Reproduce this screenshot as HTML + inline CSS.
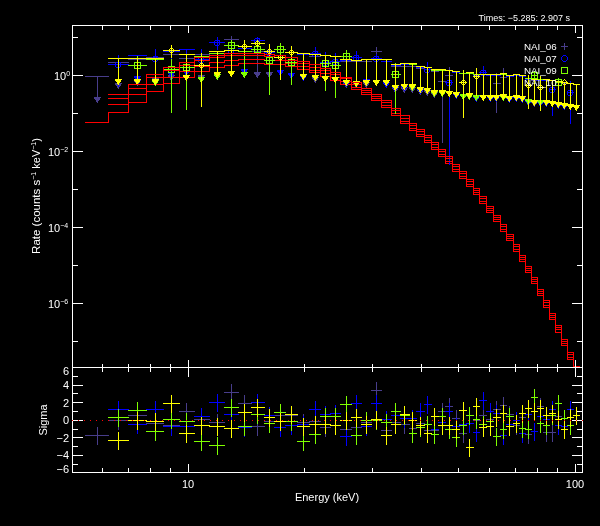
<!DOCTYPE html>
<html><head><meta charset="utf-8"><title>Spectrum</title>
<style>
html,body{margin:0;padding:0;background:#000;}
svg{display:block;will-change:transform;}
text{font-family:"Liberation Sans",sans-serif;fill:#fff;}
</style></head>
<body>
<svg width="600" height="526" viewBox="0 0 600 526" shape-rendering="crispEdges">
<rect width="600" height="526" fill="#000"/>
<rect x="85" y="76" width="24" height="1" fill="#483d8b"/>
<rect x="97" y="76" width="1" height="22" fill="#483d8b"/>
<rect x="94" y="97" width="7" height="1" fill="#483d8b"/>
<rect x="94" y="98" width="6" height="1" fill="#483d8b"/>
<rect x="95" y="99" width="5" height="1" fill="#483d8b"/>
<rect x="96" y="100" width="3" height="1" fill="#483d8b"/>
<rect x="96" y="101" width="2" height="1" fill="#483d8b"/>
<rect x="97" y="102" width="1" height="1" fill="#483d8b"/>
<rect x="108" y="62" width="21" height="1" fill="#483d8b"/>
<rect x="118" y="62" width="1" height="22" fill="#483d8b"/>
<rect x="115" y="83" width="7" height="1" fill="#483d8b"/>
<rect x="115" y="84" width="6" height="1" fill="#483d8b"/>
<rect x="116" y="85" width="5" height="1" fill="#483d8b"/>
<rect x="117" y="86" width="3" height="1" fill="#483d8b"/>
<rect x="117" y="87" width="2" height="1" fill="#483d8b"/>
<rect x="118" y="88" width="1" height="1" fill="#483d8b"/>
<rect x="128" y="59" width="19" height="1" fill="#483d8b"/>
<rect x="137" y="59" width="1" height="22" fill="#483d8b"/>
<rect x="134" y="80" width="7" height="1" fill="#483d8b"/>
<rect x="134" y="81" width="6" height="1" fill="#483d8b"/>
<rect x="135" y="82" width="5" height="1" fill="#483d8b"/>
<rect x="136" y="83" width="3" height="1" fill="#483d8b"/>
<rect x="136" y="84" width="2" height="1" fill="#483d8b"/>
<rect x="137" y="85" width="1" height="1" fill="#483d8b"/>
<rect x="146" y="57" width="18" height="1" fill="#483d8b"/>
<rect x="155" y="57" width="1" height="22" fill="#483d8b"/>
<rect x="152" y="78" width="7" height="1" fill="#483d8b"/>
<rect x="152" y="79" width="6" height="1" fill="#483d8b"/>
<rect x="153" y="80" width="5" height="1" fill="#483d8b"/>
<rect x="154" y="81" width="3" height="1" fill="#483d8b"/>
<rect x="154" y="82" width="2" height="1" fill="#483d8b"/>
<rect x="155" y="83" width="1" height="1" fill="#483d8b"/>
<rect x="163" y="54" width="17" height="1" fill="#483d8b"/>
<rect x="171" y="54" width="1" height="22" fill="#483d8b"/>
<rect x="168" y="75" width="7" height="1" fill="#483d8b"/>
<rect x="168" y="76" width="6" height="1" fill="#483d8b"/>
<rect x="169" y="77" width="5" height="1" fill="#483d8b"/>
<rect x="170" y="78" width="3" height="1" fill="#483d8b"/>
<rect x="170" y="79" width="2" height="1" fill="#483d8b"/>
<rect x="171" y="80" width="1" height="1" fill="#483d8b"/>
<rect x="194" y="54" width="16" height="1" fill="#483d8b"/>
<rect x="201" y="54" width="1" height="22" fill="#483d8b"/>
<rect x="198" y="75" width="7" height="1" fill="#483d8b"/>
<rect x="198" y="76" width="6" height="1" fill="#483d8b"/>
<rect x="199" y="77" width="5" height="1" fill="#483d8b"/>
<rect x="200" y="78" width="3" height="1" fill="#483d8b"/>
<rect x="200" y="79" width="2" height="1" fill="#483d8b"/>
<rect x="201" y="80" width="1" height="1" fill="#483d8b"/>
<rect x="251" y="51" width="14" height="1" fill="#483d8b"/>
<rect x="257" y="51" width="1" height="22" fill="#483d8b"/>
<rect x="254" y="72" width="7" height="1" fill="#483d8b"/>
<rect x="254" y="73" width="6" height="1" fill="#483d8b"/>
<rect x="255" y="74" width="5" height="1" fill="#483d8b"/>
<rect x="256" y="75" width="3" height="1" fill="#483d8b"/>
<rect x="256" y="76" width="2" height="1" fill="#483d8b"/>
<rect x="257" y="77" width="1" height="1" fill="#483d8b"/>
<rect x="264" y="51" width="11" height="1" fill="#483d8b"/>
<rect x="269" y="51" width="1" height="22" fill="#483d8b"/>
<rect x="266" y="72" width="7" height="1" fill="#483d8b"/>
<rect x="266" y="73" width="6" height="1" fill="#483d8b"/>
<rect x="267" y="74" width="5" height="1" fill="#483d8b"/>
<rect x="268" y="75" width="3" height="1" fill="#483d8b"/>
<rect x="268" y="76" width="2" height="1" fill="#483d8b"/>
<rect x="269" y="77" width="1" height="1" fill="#483d8b"/>
<rect x="297" y="54" width="13" height="1" fill="#483d8b"/>
<rect x="303" y="54" width="1" height="22" fill="#483d8b"/>
<rect x="300" y="75" width="7" height="1" fill="#483d8b"/>
<rect x="300" y="76" width="6" height="1" fill="#483d8b"/>
<rect x="301" y="77" width="5" height="1" fill="#483d8b"/>
<rect x="302" y="78" width="3" height="1" fill="#483d8b"/>
<rect x="302" y="79" width="2" height="1" fill="#483d8b"/>
<rect x="303" y="80" width="1" height="1" fill="#483d8b"/>
<rect x="309" y="56" width="12" height="1" fill="#483d8b"/>
<rect x="315" y="56" width="1" height="22" fill="#483d8b"/>
<rect x="312" y="77" width="7" height="1" fill="#483d8b"/>
<rect x="312" y="78" width="6" height="1" fill="#483d8b"/>
<rect x="313" y="79" width="5" height="1" fill="#483d8b"/>
<rect x="314" y="80" width="3" height="1" fill="#483d8b"/>
<rect x="314" y="81" width="2" height="1" fill="#483d8b"/>
<rect x="315" y="82" width="1" height="1" fill="#483d8b"/>
<rect x="340" y="61" width="12" height="1" fill="#483d8b"/>
<rect x="346" y="61" width="1" height="22" fill="#483d8b"/>
<rect x="343" y="82" width="7" height="1" fill="#483d8b"/>
<rect x="343" y="83" width="6" height="1" fill="#483d8b"/>
<rect x="344" y="84" width="5" height="1" fill="#483d8b"/>
<rect x="345" y="85" width="3" height="1" fill="#483d8b"/>
<rect x="345" y="86" width="2" height="1" fill="#483d8b"/>
<rect x="346" y="87" width="1" height="1" fill="#483d8b"/>
<rect x="351" y="61" width="11" height="1" fill="#483d8b"/>
<rect x="356" y="61" width="1" height="22" fill="#483d8b"/>
<rect x="353" y="82" width="7" height="1" fill="#483d8b"/>
<rect x="353" y="83" width="6" height="1" fill="#483d8b"/>
<rect x="354" y="84" width="5" height="1" fill="#483d8b"/>
<rect x="355" y="85" width="3" height="1" fill="#483d8b"/>
<rect x="355" y="86" width="2" height="1" fill="#483d8b"/>
<rect x="356" y="87" width="1" height="1" fill="#483d8b"/>
<rect x="361" y="61" width="11" height="1" fill="#483d8b"/>
<rect x="366" y="61" width="1" height="22" fill="#483d8b"/>
<rect x="363" y="82" width="7" height="1" fill="#483d8b"/>
<rect x="363" y="83" width="6" height="1" fill="#483d8b"/>
<rect x="364" y="84" width="5" height="1" fill="#483d8b"/>
<rect x="365" y="85" width="3" height="1" fill="#483d8b"/>
<rect x="365" y="86" width="2" height="1" fill="#483d8b"/>
<rect x="366" y="87" width="1" height="1" fill="#483d8b"/>
<rect x="381" y="61" width="11" height="1" fill="#483d8b"/>
<rect x="386" y="61" width="1" height="22" fill="#483d8b"/>
<rect x="383" y="82" width="7" height="1" fill="#483d8b"/>
<rect x="383" y="83" width="6" height="1" fill="#483d8b"/>
<rect x="384" y="84" width="5" height="1" fill="#483d8b"/>
<rect x="385" y="85" width="3" height="1" fill="#483d8b"/>
<rect x="385" y="86" width="2" height="1" fill="#483d8b"/>
<rect x="386" y="87" width="1" height="1" fill="#483d8b"/>
<rect x="391" y="66" width="10" height="1" fill="#483d8b"/>
<rect x="395" y="66" width="1" height="22" fill="#483d8b"/>
<rect x="392" y="87" width="7" height="1" fill="#483d8b"/>
<rect x="392" y="88" width="6" height="1" fill="#483d8b"/>
<rect x="393" y="89" width="5" height="1" fill="#483d8b"/>
<rect x="394" y="90" width="3" height="1" fill="#483d8b"/>
<rect x="394" y="91" width="2" height="1" fill="#483d8b"/>
<rect x="395" y="92" width="1" height="1" fill="#483d8b"/>
<rect x="400" y="66" width="10" height="1" fill="#483d8b"/>
<rect x="404" y="66" width="1" height="22" fill="#483d8b"/>
<rect x="401" y="87" width="7" height="1" fill="#483d8b"/>
<rect x="401" y="88" width="6" height="1" fill="#483d8b"/>
<rect x="402" y="89" width="5" height="1" fill="#483d8b"/>
<rect x="403" y="90" width="3" height="1" fill="#483d8b"/>
<rect x="403" y="91" width="2" height="1" fill="#483d8b"/>
<rect x="404" y="92" width="1" height="1" fill="#483d8b"/>
<rect x="409" y="66" width="8" height="1" fill="#483d8b"/>
<rect x="412" y="66" width="1" height="22" fill="#483d8b"/>
<rect x="409" y="87" width="7" height="1" fill="#483d8b"/>
<rect x="409" y="88" width="6" height="1" fill="#483d8b"/>
<rect x="410" y="89" width="5" height="1" fill="#483d8b"/>
<rect x="411" y="90" width="3" height="1" fill="#483d8b"/>
<rect x="411" y="91" width="2" height="1" fill="#483d8b"/>
<rect x="412" y="92" width="1" height="1" fill="#483d8b"/>
<rect x="416" y="68" width="9" height="1" fill="#483d8b"/>
<rect x="420" y="68" width="1" height="22" fill="#483d8b"/>
<rect x="417" y="89" width="7" height="1" fill="#483d8b"/>
<rect x="417" y="90" width="6" height="1" fill="#483d8b"/>
<rect x="418" y="91" width="5" height="1" fill="#483d8b"/>
<rect x="419" y="92" width="3" height="1" fill="#483d8b"/>
<rect x="419" y="93" width="2" height="1" fill="#483d8b"/>
<rect x="420" y="94" width="1" height="1" fill="#483d8b"/>
<rect x="424" y="69" width="8" height="1" fill="#483d8b"/>
<rect x="427" y="69" width="1" height="22" fill="#483d8b"/>
<rect x="424" y="90" width="7" height="1" fill="#483d8b"/>
<rect x="424" y="91" width="6" height="1" fill="#483d8b"/>
<rect x="425" y="92" width="5" height="1" fill="#483d8b"/>
<rect x="426" y="93" width="3" height="1" fill="#483d8b"/>
<rect x="426" y="94" width="2" height="1" fill="#483d8b"/>
<rect x="427" y="95" width="1" height="1" fill="#483d8b"/>
<rect x="431" y="71" width="8" height="1" fill="#483d8b"/>
<rect x="434" y="71" width="1" height="22" fill="#483d8b"/>
<rect x="431" y="92" width="7" height="1" fill="#483d8b"/>
<rect x="431" y="93" width="6" height="1" fill="#483d8b"/>
<rect x="432" y="94" width="5" height="1" fill="#483d8b"/>
<rect x="433" y="95" width="3" height="1" fill="#483d8b"/>
<rect x="433" y="96" width="2" height="1" fill="#483d8b"/>
<rect x="434" y="97" width="1" height="1" fill="#483d8b"/>
<rect x="525" y="79" width="7" height="1" fill="#483d8b"/>
<rect x="528" y="79" width="1" height="22" fill="#483d8b"/>
<rect x="525" y="100" width="7" height="1" fill="#483d8b"/>
<rect x="525" y="101" width="6" height="1" fill="#483d8b"/>
<rect x="526" y="102" width="5" height="1" fill="#483d8b"/>
<rect x="527" y="103" width="3" height="1" fill="#483d8b"/>
<rect x="527" y="104" width="2" height="1" fill="#483d8b"/>
<rect x="528" y="105" width="1" height="1" fill="#483d8b"/>
<rect x="531" y="80" width="7" height="1" fill="#483d8b"/>
<rect x="534" y="80" width="1" height="22" fill="#483d8b"/>
<rect x="531" y="101" width="7" height="1" fill="#483d8b"/>
<rect x="531" y="102" width="6" height="1" fill="#483d8b"/>
<rect x="532" y="103" width="5" height="1" fill="#483d8b"/>
<rect x="533" y="104" width="3" height="1" fill="#483d8b"/>
<rect x="533" y="105" width="2" height="1" fill="#483d8b"/>
<rect x="534" y="106" width="1" height="1" fill="#483d8b"/>
<rect x="537" y="80" width="7" height="1" fill="#483d8b"/>
<rect x="540" y="80" width="1" height="22" fill="#483d8b"/>
<rect x="537" y="101" width="7" height="1" fill="#483d8b"/>
<rect x="537" y="102" width="6" height="1" fill="#483d8b"/>
<rect x="538" y="103" width="5" height="1" fill="#483d8b"/>
<rect x="539" y="104" width="3" height="1" fill="#483d8b"/>
<rect x="539" y="105" width="2" height="1" fill="#483d8b"/>
<rect x="540" y="106" width="1" height="1" fill="#483d8b"/>
<rect x="179" y="58" width="16" height="1" fill="#483d8b"/>
<rect x="186" y="55" width="1" height="21" fill="#483d8b"/>
<rect x="183" y="58" width="7" height="1" fill="#483d8b"/>
<rect x="186" y="55" width="1" height="7" fill="#483d8b"/>
<rect x="224" y="39" width="15" height="1" fill="#483d8b"/>
<rect x="231" y="36" width="1" height="9" fill="#483d8b"/>
<rect x="228" y="39" width="7" height="1" fill="#483d8b"/>
<rect x="231" y="36" width="1" height="7" fill="#483d8b"/>
<rect x="371" y="51" width="11" height="1" fill="#483d8b"/>
<rect x="376" y="47" width="1" height="10" fill="#483d8b"/>
<rect x="373" y="51" width="7" height="1" fill="#483d8b"/>
<rect x="376" y="48" width="1" height="7" fill="#483d8b"/>
<rect x="438" y="81" width="8" height="1" fill="#483d8b"/>
<rect x="442" y="72" width="1" height="71" fill="#483d8b"/>
<rect x="439" y="81" width="7" height="1" fill="#483d8b"/>
<rect x="442" y="78" width="1" height="7" fill="#483d8b"/>
<rect x="445" y="75" width="8" height="1" fill="#483d8b"/>
<rect x="449" y="67" width="1" height="22" fill="#483d8b"/>
<rect x="446" y="75" width="7" height="1" fill="#483d8b"/>
<rect x="449" y="72" width="1" height="7" fill="#483d8b"/>
<rect x="493" y="83" width="8" height="1" fill="#483d8b"/>
<rect x="496" y="73" width="1" height="40" fill="#483d8b"/>
<rect x="493" y="83" width="7" height="1" fill="#483d8b"/>
<rect x="496" y="80" width="1" height="7" fill="#483d8b"/>
<rect x="500" y="77" width="7" height="1" fill="#483d8b"/>
<rect x="503" y="68" width="1" height="23" fill="#483d8b"/>
<rect x="500" y="77" width="7" height="1" fill="#483d8b"/>
<rect x="503" y="74" width="1" height="7" fill="#483d8b"/>
<rect x="85" y="122" width="24" height="1" fill="#ff0000"/>
<rect x="108" y="112" width="21" height="1" fill="#ff0000"/>
<rect x="108" y="112" width="1" height="11" fill="#ff0000"/>
<rect x="128" y="102" width="19" height="1" fill="#ff0000"/>
<rect x="128" y="102" width="1" height="11" fill="#ff0000"/>
<rect x="146" y="91" width="18" height="1" fill="#ff0000"/>
<rect x="146" y="91" width="1" height="12" fill="#ff0000"/>
<rect x="163" y="83" width="17" height="1" fill="#ff0000"/>
<rect x="163" y="83" width="1" height="9" fill="#ff0000"/>
<rect x="179" y="77" width="16" height="1" fill="#ff0000"/>
<rect x="179" y="77" width="1" height="7" fill="#ff0000"/>
<rect x="194" y="71" width="16" height="1" fill="#ff0000"/>
<rect x="194" y="71" width="1" height="7" fill="#ff0000"/>
<rect x="209" y="67" width="16" height="1" fill="#ff0000"/>
<rect x="209" y="67" width="1" height="5" fill="#ff0000"/>
<rect x="224" y="65" width="15" height="1" fill="#ff0000"/>
<rect x="224" y="65" width="1" height="3" fill="#ff0000"/>
<rect x="238" y="63" width="14" height="1" fill="#ff0000"/>
<rect x="238" y="63" width="1" height="3" fill="#ff0000"/>
<rect x="251" y="63" width="14" height="1" fill="#ff0000"/>
<rect x="251" y="63" width="1" height="1" fill="#ff0000"/>
<rect x="264" y="64" width="11" height="1" fill="#ff0000"/>
<rect x="264" y="63" width="1" height="2" fill="#ff0000"/>
<rect x="274" y="64" width="12" height="1" fill="#ff0000"/>
<rect x="274" y="64" width="1" height="1" fill="#ff0000"/>
<rect x="285" y="66" width="13" height="1" fill="#ff0000"/>
<rect x="285" y="64" width="1" height="3" fill="#ff0000"/>
<rect x="297" y="69" width="13" height="1" fill="#ff0000"/>
<rect x="297" y="66" width="1" height="4" fill="#ff0000"/>
<rect x="309" y="72" width="12" height="1" fill="#ff0000"/>
<rect x="309" y="69" width="1" height="4" fill="#ff0000"/>
<rect x="320" y="76" width="11" height="1" fill="#ff0000"/>
<rect x="320" y="72" width="1" height="5" fill="#ff0000"/>
<rect x="330" y="80" width="11" height="1" fill="#ff0000"/>
<rect x="330" y="76" width="1" height="5" fill="#ff0000"/>
<rect x="340" y="84" width="12" height="1" fill="#ff0000"/>
<rect x="340" y="80" width="1" height="5" fill="#ff0000"/>
<rect x="351" y="89" width="11" height="1" fill="#ff0000"/>
<rect x="351" y="84" width="1" height="6" fill="#ff0000"/>
<rect x="361" y="94" width="11" height="1" fill="#ff0000"/>
<rect x="361" y="89" width="1" height="6" fill="#ff0000"/>
<rect x="371" y="100" width="11" height="1" fill="#ff0000"/>
<rect x="371" y="94" width="1" height="7" fill="#ff0000"/>
<rect x="381" y="107" width="11" height="1" fill="#ff0000"/>
<rect x="381" y="100" width="1" height="8" fill="#ff0000"/>
<rect x="391" y="115" width="10" height="1" fill="#ff0000"/>
<rect x="391" y="107" width="1" height="9" fill="#ff0000"/>
<rect x="400" y="123" width="10" height="1" fill="#ff0000"/>
<rect x="400" y="115" width="1" height="9" fill="#ff0000"/>
<rect x="409" y="130" width="8" height="1" fill="#ff0000"/>
<rect x="409" y="123" width="1" height="8" fill="#ff0000"/>
<rect x="416" y="136" width="9" height="1" fill="#ff0000"/>
<rect x="416" y="130" width="1" height="7" fill="#ff0000"/>
<rect x="424" y="142" width="8" height="1" fill="#ff0000"/>
<rect x="424" y="136" width="1" height="7" fill="#ff0000"/>
<rect x="431" y="149" width="8" height="1" fill="#ff0000"/>
<rect x="431" y="142" width="1" height="8" fill="#ff0000"/>
<rect x="438" y="156" width="8" height="1" fill="#ff0000"/>
<rect x="438" y="149" width="1" height="8" fill="#ff0000"/>
<rect x="445" y="163" width="8" height="1" fill="#ff0000"/>
<rect x="445" y="156" width="1" height="8" fill="#ff0000"/>
<rect x="452" y="171" width="8" height="1" fill="#ff0000"/>
<rect x="452" y="163" width="1" height="9" fill="#ff0000"/>
<rect x="459" y="178" width="8" height="1" fill="#ff0000"/>
<rect x="459" y="171" width="1" height="8" fill="#ff0000"/>
<rect x="466" y="186" width="8" height="1" fill="#ff0000"/>
<rect x="466" y="178" width="1" height="9" fill="#ff0000"/>
<rect x="473" y="194" width="7" height="1" fill="#ff0000"/>
<rect x="473" y="186" width="1" height="9" fill="#ff0000"/>
<rect x="479" y="203" width="8" height="1" fill="#ff0000"/>
<rect x="479" y="194" width="1" height="10" fill="#ff0000"/>
<rect x="486" y="212" width="8" height="1" fill="#ff0000"/>
<rect x="486" y="203" width="1" height="10" fill="#ff0000"/>
<rect x="493" y="221" width="8" height="1" fill="#ff0000"/>
<rect x="493" y="212" width="1" height="10" fill="#ff0000"/>
<rect x="500" y="231" width="7" height="1" fill="#ff0000"/>
<rect x="500" y="221" width="1" height="11" fill="#ff0000"/>
<rect x="506" y="240" width="8" height="1" fill="#ff0000"/>
<rect x="506" y="231" width="1" height="10" fill="#ff0000"/>
<rect x="513" y="251" width="7" height="1" fill="#ff0000"/>
<rect x="513" y="240" width="1" height="12" fill="#ff0000"/>
<rect x="519" y="261" width="7" height="1" fill="#ff0000"/>
<rect x="519" y="251" width="1" height="11" fill="#ff0000"/>
<rect x="525" y="272" width="7" height="1" fill="#ff0000"/>
<rect x="525" y="261" width="1" height="12" fill="#ff0000"/>
<rect x="531" y="283" width="7" height="1" fill="#ff0000"/>
<rect x="531" y="272" width="1" height="12" fill="#ff0000"/>
<rect x="537" y="295" width="7" height="1" fill="#ff0000"/>
<rect x="537" y="283" width="1" height="13" fill="#ff0000"/>
<rect x="543" y="307" width="7" height="1" fill="#ff0000"/>
<rect x="543" y="295" width="1" height="13" fill="#ff0000"/>
<rect x="549" y="319" width="7" height="1" fill="#ff0000"/>
<rect x="549" y="307" width="1" height="13" fill="#ff0000"/>
<rect x="555" y="332" width="7" height="1" fill="#ff0000"/>
<rect x="555" y="319" width="1" height="14" fill="#ff0000"/>
<rect x="561" y="345" width="7" height="1" fill="#ff0000"/>
<rect x="561" y="332" width="1" height="14" fill="#ff0000"/>
<rect x="567" y="359" width="7" height="1" fill="#ff0000"/>
<rect x="567" y="345" width="1" height="15" fill="#ff0000"/>
<rect x="573" y="366" width="7" height="1" fill="#ff0000"/>
<rect x="573" y="359" width="1" height="8" fill="#ff0000"/>
<rect x="128" y="55" width="19" height="1" fill="#0000ff"/>
<rect x="137" y="55" width="1" height="22" fill="#0000ff"/>
<rect x="134" y="76" width="7" height="1" fill="#0000ff"/>
<rect x="134" y="77" width="6" height="1" fill="#0000ff"/>
<rect x="135" y="78" width="5" height="1" fill="#0000ff"/>
<rect x="136" y="79" width="3" height="1" fill="#0000ff"/>
<rect x="136" y="80" width="2" height="1" fill="#0000ff"/>
<rect x="137" y="81" width="1" height="1" fill="#0000ff"/>
<rect x="163" y="51" width="17" height="1" fill="#0000ff"/>
<rect x="171" y="51" width="1" height="22" fill="#0000ff"/>
<rect x="168" y="72" width="7" height="1" fill="#0000ff"/>
<rect x="168" y="73" width="6" height="1" fill="#0000ff"/>
<rect x="169" y="74" width="5" height="1" fill="#0000ff"/>
<rect x="170" y="75" width="3" height="1" fill="#0000ff"/>
<rect x="170" y="76" width="2" height="1" fill="#0000ff"/>
<rect x="171" y="77" width="1" height="1" fill="#0000ff"/>
<rect x="179" y="49" width="16" height="1" fill="#0000ff"/>
<rect x="186" y="49" width="1" height="22" fill="#0000ff"/>
<rect x="183" y="70" width="7" height="1" fill="#0000ff"/>
<rect x="183" y="71" width="6" height="1" fill="#0000ff"/>
<rect x="184" y="72" width="5" height="1" fill="#0000ff"/>
<rect x="185" y="73" width="3" height="1" fill="#0000ff"/>
<rect x="185" y="74" width="2" height="1" fill="#0000ff"/>
<rect x="186" y="75" width="1" height="1" fill="#0000ff"/>
<rect x="238" y="48" width="14" height="1" fill="#0000ff"/>
<rect x="244" y="48" width="1" height="22" fill="#0000ff"/>
<rect x="241" y="69" width="7" height="1" fill="#0000ff"/>
<rect x="241" y="70" width="6" height="1" fill="#0000ff"/>
<rect x="242" y="71" width="5" height="1" fill="#0000ff"/>
<rect x="243" y="72" width="3" height="1" fill="#0000ff"/>
<rect x="243" y="73" width="2" height="1" fill="#0000ff"/>
<rect x="244" y="74" width="1" height="1" fill="#0000ff"/>
<rect x="274" y="49" width="12" height="1" fill="#0000ff"/>
<rect x="280" y="49" width="1" height="22" fill="#0000ff"/>
<rect x="277" y="70" width="7" height="1" fill="#0000ff"/>
<rect x="277" y="71" width="6" height="1" fill="#0000ff"/>
<rect x="278" y="72" width="5" height="1" fill="#0000ff"/>
<rect x="279" y="73" width="3" height="1" fill="#0000ff"/>
<rect x="279" y="74" width="2" height="1" fill="#0000ff"/>
<rect x="280" y="75" width="1" height="1" fill="#0000ff"/>
<rect x="285" y="52" width="13" height="1" fill="#0000ff"/>
<rect x="291" y="52" width="1" height="22" fill="#0000ff"/>
<rect x="288" y="73" width="7" height="1" fill="#0000ff"/>
<rect x="288" y="74" width="6" height="1" fill="#0000ff"/>
<rect x="289" y="75" width="5" height="1" fill="#0000ff"/>
<rect x="290" y="76" width="3" height="1" fill="#0000ff"/>
<rect x="290" y="77" width="2" height="1" fill="#0000ff"/>
<rect x="291" y="78" width="1" height="1" fill="#0000ff"/>
<rect x="297" y="54" width="13" height="1" fill="#0000ff"/>
<rect x="303" y="54" width="1" height="22" fill="#0000ff"/>
<rect x="300" y="75" width="7" height="1" fill="#0000ff"/>
<rect x="300" y="76" width="6" height="1" fill="#0000ff"/>
<rect x="301" y="77" width="5" height="1" fill="#0000ff"/>
<rect x="302" y="78" width="3" height="1" fill="#0000ff"/>
<rect x="302" y="79" width="2" height="1" fill="#0000ff"/>
<rect x="303" y="80" width="1" height="1" fill="#0000ff"/>
<rect x="340" y="60" width="12" height="1" fill="#0000ff"/>
<rect x="346" y="60" width="1" height="22" fill="#0000ff"/>
<rect x="343" y="81" width="7" height="1" fill="#0000ff"/>
<rect x="343" y="82" width="6" height="1" fill="#0000ff"/>
<rect x="344" y="83" width="5" height="1" fill="#0000ff"/>
<rect x="345" y="84" width="3" height="1" fill="#0000ff"/>
<rect x="345" y="85" width="2" height="1" fill="#0000ff"/>
<rect x="346" y="86" width="1" height="1" fill="#0000ff"/>
<rect x="361" y="59" width="11" height="1" fill="#0000ff"/>
<rect x="366" y="59" width="1" height="21" fill="#0000ff"/>
<rect x="363" y="79" width="7" height="1" fill="#0000ff"/>
<rect x="363" y="80" width="6" height="1" fill="#0000ff"/>
<rect x="364" y="81" width="5" height="1" fill="#0000ff"/>
<rect x="365" y="82" width="3" height="1" fill="#0000ff"/>
<rect x="365" y="83" width="2" height="1" fill="#0000ff"/>
<rect x="366" y="84" width="1" height="1" fill="#0000ff"/>
<rect x="381" y="61" width="11" height="1" fill="#0000ff"/>
<rect x="386" y="61" width="1" height="22" fill="#0000ff"/>
<rect x="383" y="82" width="7" height="1" fill="#0000ff"/>
<rect x="383" y="83" width="6" height="1" fill="#0000ff"/>
<rect x="384" y="84" width="5" height="1" fill="#0000ff"/>
<rect x="385" y="85" width="3" height="1" fill="#0000ff"/>
<rect x="385" y="86" width="2" height="1" fill="#0000ff"/>
<rect x="386" y="87" width="1" height="1" fill="#0000ff"/>
<rect x="391" y="65" width="10" height="1" fill="#0000ff"/>
<rect x="395" y="65" width="1" height="22" fill="#0000ff"/>
<rect x="392" y="86" width="7" height="1" fill="#0000ff"/>
<rect x="392" y="87" width="6" height="1" fill="#0000ff"/>
<rect x="393" y="88" width="5" height="1" fill="#0000ff"/>
<rect x="394" y="89" width="3" height="1" fill="#0000ff"/>
<rect x="394" y="90" width="2" height="1" fill="#0000ff"/>
<rect x="395" y="91" width="1" height="1" fill="#0000ff"/>
<rect x="400" y="64" width="10" height="1" fill="#0000ff"/>
<rect x="404" y="64" width="1" height="22" fill="#0000ff"/>
<rect x="401" y="85" width="7" height="1" fill="#0000ff"/>
<rect x="401" y="86" width="6" height="1" fill="#0000ff"/>
<rect x="402" y="87" width="5" height="1" fill="#0000ff"/>
<rect x="403" y="88" width="3" height="1" fill="#0000ff"/>
<rect x="403" y="89" width="2" height="1" fill="#0000ff"/>
<rect x="404" y="90" width="1" height="1" fill="#0000ff"/>
<rect x="409" y="64" width="8" height="1" fill="#0000ff"/>
<rect x="412" y="64" width="1" height="22" fill="#0000ff"/>
<rect x="409" y="85" width="7" height="1" fill="#0000ff"/>
<rect x="409" y="86" width="6" height="1" fill="#0000ff"/>
<rect x="410" y="87" width="5" height="1" fill="#0000ff"/>
<rect x="411" y="88" width="3" height="1" fill="#0000ff"/>
<rect x="411" y="89" width="2" height="1" fill="#0000ff"/>
<rect x="412" y="90" width="1" height="1" fill="#0000ff"/>
<rect x="416" y="67" width="9" height="1" fill="#0000ff"/>
<rect x="420" y="67" width="1" height="22" fill="#0000ff"/>
<rect x="417" y="88" width="7" height="1" fill="#0000ff"/>
<rect x="417" y="89" width="6" height="1" fill="#0000ff"/>
<rect x="418" y="90" width="5" height="1" fill="#0000ff"/>
<rect x="419" y="91" width="3" height="1" fill="#0000ff"/>
<rect x="419" y="92" width="2" height="1" fill="#0000ff"/>
<rect x="420" y="93" width="1" height="1" fill="#0000ff"/>
<rect x="431" y="70" width="8" height="1" fill="#0000ff"/>
<rect x="434" y="70" width="1" height="22" fill="#0000ff"/>
<rect x="431" y="91" width="7" height="1" fill="#0000ff"/>
<rect x="431" y="92" width="6" height="1" fill="#0000ff"/>
<rect x="432" y="93" width="5" height="1" fill="#0000ff"/>
<rect x="433" y="94" width="3" height="1" fill="#0000ff"/>
<rect x="433" y="95" width="2" height="1" fill="#0000ff"/>
<rect x="434" y="96" width="1" height="1" fill="#0000ff"/>
<rect x="438" y="70" width="8" height="1" fill="#0000ff"/>
<rect x="442" y="70" width="1" height="22" fill="#0000ff"/>
<rect x="439" y="91" width="7" height="1" fill="#0000ff"/>
<rect x="439" y="92" width="6" height="1" fill="#0000ff"/>
<rect x="440" y="93" width="5" height="1" fill="#0000ff"/>
<rect x="441" y="94" width="3" height="1" fill="#0000ff"/>
<rect x="441" y="95" width="2" height="1" fill="#0000ff"/>
<rect x="442" y="96" width="1" height="1" fill="#0000ff"/>
<rect x="452" y="72" width="8" height="1" fill="#0000ff"/>
<rect x="456" y="72" width="1" height="22" fill="#0000ff"/>
<rect x="453" y="93" width="7" height="1" fill="#0000ff"/>
<rect x="453" y="94" width="6" height="1" fill="#0000ff"/>
<rect x="454" y="95" width="5" height="1" fill="#0000ff"/>
<rect x="455" y="96" width="3" height="1" fill="#0000ff"/>
<rect x="455" y="97" width="2" height="1" fill="#0000ff"/>
<rect x="456" y="98" width="1" height="1" fill="#0000ff"/>
<rect x="459" y="73" width="8" height="1" fill="#0000ff"/>
<rect x="463" y="73" width="1" height="22" fill="#0000ff"/>
<rect x="460" y="94" width="7" height="1" fill="#0000ff"/>
<rect x="460" y="95" width="6" height="1" fill="#0000ff"/>
<rect x="461" y="96" width="5" height="1" fill="#0000ff"/>
<rect x="462" y="97" width="3" height="1" fill="#0000ff"/>
<rect x="462" y="98" width="2" height="1" fill="#0000ff"/>
<rect x="463" y="99" width="1" height="1" fill="#0000ff"/>
<rect x="466" y="73" width="8" height="1" fill="#0000ff"/>
<rect x="469" y="73" width="1" height="22" fill="#0000ff"/>
<rect x="466" y="94" width="7" height="1" fill="#0000ff"/>
<rect x="466" y="95" width="6" height="1" fill="#0000ff"/>
<rect x="467" y="96" width="5" height="1" fill="#0000ff"/>
<rect x="468" y="97" width="3" height="1" fill="#0000ff"/>
<rect x="468" y="98" width="2" height="1" fill="#0000ff"/>
<rect x="469" y="99" width="1" height="1" fill="#0000ff"/>
<rect x="473" y="75" width="7" height="1" fill="#0000ff"/>
<rect x="476" y="75" width="1" height="22" fill="#0000ff"/>
<rect x="473" y="96" width="7" height="1" fill="#0000ff"/>
<rect x="473" y="97" width="6" height="1" fill="#0000ff"/>
<rect x="474" y="98" width="5" height="1" fill="#0000ff"/>
<rect x="475" y="99" width="3" height="1" fill="#0000ff"/>
<rect x="475" y="100" width="2" height="1" fill="#0000ff"/>
<rect x="476" y="101" width="1" height="1" fill="#0000ff"/>
<rect x="486" y="75" width="8" height="1" fill="#0000ff"/>
<rect x="490" y="75" width="1" height="22" fill="#0000ff"/>
<rect x="487" y="96" width="7" height="1" fill="#0000ff"/>
<rect x="487" y="97" width="6" height="1" fill="#0000ff"/>
<rect x="488" y="98" width="5" height="1" fill="#0000ff"/>
<rect x="489" y="99" width="3" height="1" fill="#0000ff"/>
<rect x="489" y="100" width="2" height="1" fill="#0000ff"/>
<rect x="490" y="101" width="1" height="1" fill="#0000ff"/>
<rect x="493" y="75" width="8" height="1" fill="#0000ff"/>
<rect x="496" y="75" width="1" height="22" fill="#0000ff"/>
<rect x="493" y="96" width="7" height="1" fill="#0000ff"/>
<rect x="493" y="97" width="6" height="1" fill="#0000ff"/>
<rect x="494" y="98" width="5" height="1" fill="#0000ff"/>
<rect x="495" y="99" width="3" height="1" fill="#0000ff"/>
<rect x="495" y="100" width="2" height="1" fill="#0000ff"/>
<rect x="496" y="101" width="1" height="1" fill="#0000ff"/>
<rect x="500" y="74" width="7" height="1" fill="#0000ff"/>
<rect x="503" y="74" width="1" height="22" fill="#0000ff"/>
<rect x="500" y="95" width="7" height="1" fill="#0000ff"/>
<rect x="500" y="96" width="6" height="1" fill="#0000ff"/>
<rect x="501" y="97" width="5" height="1" fill="#0000ff"/>
<rect x="502" y="98" width="3" height="1" fill="#0000ff"/>
<rect x="502" y="99" width="2" height="1" fill="#0000ff"/>
<rect x="503" y="100" width="1" height="1" fill="#0000ff"/>
<rect x="506" y="76" width="8" height="1" fill="#0000ff"/>
<rect x="509" y="76" width="1" height="22" fill="#0000ff"/>
<rect x="506" y="97" width="7" height="1" fill="#0000ff"/>
<rect x="506" y="98" width="6" height="1" fill="#0000ff"/>
<rect x="507" y="99" width="5" height="1" fill="#0000ff"/>
<rect x="508" y="100" width="3" height="1" fill="#0000ff"/>
<rect x="508" y="101" width="2" height="1" fill="#0000ff"/>
<rect x="509" y="102" width="1" height="1" fill="#0000ff"/>
<rect x="513" y="75" width="7" height="1" fill="#0000ff"/>
<rect x="516" y="75" width="1" height="22" fill="#0000ff"/>
<rect x="513" y="96" width="7" height="1" fill="#0000ff"/>
<rect x="513" y="97" width="6" height="1" fill="#0000ff"/>
<rect x="514" y="98" width="5" height="1" fill="#0000ff"/>
<rect x="515" y="99" width="3" height="1" fill="#0000ff"/>
<rect x="515" y="100" width="2" height="1" fill="#0000ff"/>
<rect x="516" y="101" width="1" height="1" fill="#0000ff"/>
<rect x="519" y="76" width="7" height="1" fill="#0000ff"/>
<rect x="522" y="76" width="1" height="22" fill="#0000ff"/>
<rect x="519" y="97" width="7" height="1" fill="#0000ff"/>
<rect x="519" y="98" width="6" height="1" fill="#0000ff"/>
<rect x="520" y="99" width="5" height="1" fill="#0000ff"/>
<rect x="521" y="100" width="3" height="1" fill="#0000ff"/>
<rect x="521" y="101" width="2" height="1" fill="#0000ff"/>
<rect x="522" y="102" width="1" height="1" fill="#0000ff"/>
<rect x="525" y="79" width="7" height="1" fill="#0000ff"/>
<rect x="528" y="79" width="1" height="22" fill="#0000ff"/>
<rect x="525" y="100" width="7" height="1" fill="#0000ff"/>
<rect x="525" y="101" width="6" height="1" fill="#0000ff"/>
<rect x="526" y="102" width="5" height="1" fill="#0000ff"/>
<rect x="527" y="103" width="3" height="1" fill="#0000ff"/>
<rect x="527" y="104" width="2" height="1" fill="#0000ff"/>
<rect x="528" y="105" width="1" height="1" fill="#0000ff"/>
<rect x="531" y="79" width="7" height="1" fill="#0000ff"/>
<rect x="534" y="79" width="1" height="22" fill="#0000ff"/>
<rect x="531" y="100" width="7" height="1" fill="#0000ff"/>
<rect x="531" y="101" width="6" height="1" fill="#0000ff"/>
<rect x="532" y="102" width="5" height="1" fill="#0000ff"/>
<rect x="533" y="103" width="3" height="1" fill="#0000ff"/>
<rect x="533" y="104" width="2" height="1" fill="#0000ff"/>
<rect x="534" y="105" width="1" height="1" fill="#0000ff"/>
<rect x="537" y="80" width="7" height="1" fill="#0000ff"/>
<rect x="540" y="80" width="1" height="22" fill="#0000ff"/>
<rect x="537" y="101" width="7" height="1" fill="#0000ff"/>
<rect x="537" y="102" width="6" height="1" fill="#0000ff"/>
<rect x="538" y="103" width="5" height="1" fill="#0000ff"/>
<rect x="539" y="104" width="3" height="1" fill="#0000ff"/>
<rect x="539" y="105" width="2" height="1" fill="#0000ff"/>
<rect x="540" y="106" width="1" height="1" fill="#0000ff"/>
<rect x="543" y="80" width="7" height="1" fill="#0000ff"/>
<rect x="546" y="80" width="1" height="22" fill="#0000ff"/>
<rect x="543" y="101" width="7" height="1" fill="#0000ff"/>
<rect x="543" y="102" width="6" height="1" fill="#0000ff"/>
<rect x="544" y="103" width="5" height="1" fill="#0000ff"/>
<rect x="545" y="104" width="3" height="1" fill="#0000ff"/>
<rect x="545" y="105" width="2" height="1" fill="#0000ff"/>
<rect x="546" y="106" width="1" height="1" fill="#0000ff"/>
<rect x="555" y="82" width="7" height="1" fill="#0000ff"/>
<rect x="558" y="82" width="1" height="22" fill="#0000ff"/>
<rect x="555" y="103" width="7" height="1" fill="#0000ff"/>
<rect x="555" y="104" width="6" height="1" fill="#0000ff"/>
<rect x="556" y="105" width="5" height="1" fill="#0000ff"/>
<rect x="557" y="106" width="3" height="1" fill="#0000ff"/>
<rect x="557" y="107" width="2" height="1" fill="#0000ff"/>
<rect x="558" y="108" width="1" height="1" fill="#0000ff"/>
<rect x="561" y="83" width="7" height="1" fill="#0000ff"/>
<rect x="564" y="83" width="1" height="22" fill="#0000ff"/>
<rect x="561" y="104" width="7" height="1" fill="#0000ff"/>
<rect x="561" y="105" width="6" height="1" fill="#0000ff"/>
<rect x="562" y="106" width="5" height="1" fill="#0000ff"/>
<rect x="563" y="107" width="3" height="1" fill="#0000ff"/>
<rect x="563" y="108" width="2" height="1" fill="#0000ff"/>
<rect x="564" y="109" width="1" height="1" fill="#0000ff"/>
<rect x="108" y="64" width="21" height="1" fill="#0000ff"/>
<rect x="118" y="55" width="1" height="32" fill="#0000ff"/>
<rect x="116" y="62" width="5" height="1" fill="#0000ff"/>
<rect x="116" y="67" width="4" height="1" fill="#0000ff"/>
<rect x="115" y="63" width="1" height="4" fill="#0000ff"/>
<rect x="120" y="62" width="1" height="5" fill="#0000ff"/>
<rect x="146" y="58" width="18" height="1" fill="#0000ff"/>
<rect x="155" y="49" width="1" height="18" fill="#0000ff"/>
<rect x="153" y="56" width="5" height="1" fill="#0000ff"/>
<rect x="153" y="61" width="4" height="1" fill="#0000ff"/>
<rect x="152" y="57" width="1" height="4" fill="#0000ff"/>
<rect x="157" y="56" width="1" height="5" fill="#0000ff"/>
<rect x="194" y="59" width="16" height="1" fill="#0000ff"/>
<rect x="201" y="49" width="1" height="40" fill="#0000ff"/>
<rect x="199" y="57" width="5" height="1" fill="#0000ff"/>
<rect x="199" y="62" width="4" height="1" fill="#0000ff"/>
<rect x="198" y="58" width="1" height="4" fill="#0000ff"/>
<rect x="203" y="57" width="1" height="5" fill="#0000ff"/>
<rect x="209" y="42" width="16" height="1" fill="#0000ff"/>
<rect x="217" y="37" width="1" height="13" fill="#0000ff"/>
<rect x="215" y="40" width="5" height="1" fill="#0000ff"/>
<rect x="215" y="45" width="4" height="1" fill="#0000ff"/>
<rect x="214" y="41" width="1" height="4" fill="#0000ff"/>
<rect x="219" y="40" width="1" height="5" fill="#0000ff"/>
<rect x="224" y="50" width="15" height="1" fill="#0000ff"/>
<rect x="231" y="46" width="1" height="9" fill="#0000ff"/>
<rect x="229" y="48" width="5" height="1" fill="#0000ff"/>
<rect x="229" y="53" width="4" height="1" fill="#0000ff"/>
<rect x="228" y="49" width="1" height="4" fill="#0000ff"/>
<rect x="233" y="48" width="1" height="5" fill="#0000ff"/>
<rect x="251" y="40" width="14" height="1" fill="#0000ff"/>
<rect x="257" y="37" width="1" height="8" fill="#0000ff"/>
<rect x="255" y="38" width="5" height="1" fill="#0000ff"/>
<rect x="255" y="43" width="4" height="1" fill="#0000ff"/>
<rect x="254" y="39" width="1" height="4" fill="#0000ff"/>
<rect x="259" y="38" width="1" height="5" fill="#0000ff"/>
<rect x="264" y="52" width="11" height="1" fill="#0000ff"/>
<rect x="269" y="47" width="1" height="12" fill="#0000ff"/>
<rect x="267" y="50" width="5" height="1" fill="#0000ff"/>
<rect x="267" y="55" width="4" height="1" fill="#0000ff"/>
<rect x="266" y="51" width="1" height="4" fill="#0000ff"/>
<rect x="271" y="50" width="1" height="5" fill="#0000ff"/>
<rect x="309" y="53" width="12" height="1" fill="#0000ff"/>
<rect x="315" y="47" width="1" height="12" fill="#0000ff"/>
<rect x="313" y="51" width="5" height="1" fill="#0000ff"/>
<rect x="313" y="56" width="4" height="1" fill="#0000ff"/>
<rect x="312" y="52" width="1" height="4" fill="#0000ff"/>
<rect x="317" y="51" width="1" height="5" fill="#0000ff"/>
<rect x="320" y="62" width="11" height="1" fill="#0000ff"/>
<rect x="325" y="52" width="1" height="29" fill="#0000ff"/>
<rect x="323" y="60" width="5" height="1" fill="#0000ff"/>
<rect x="323" y="65" width="4" height="1" fill="#0000ff"/>
<rect x="322" y="61" width="1" height="4" fill="#0000ff"/>
<rect x="327" y="60" width="1" height="5" fill="#0000ff"/>
<rect x="330" y="61" width="11" height="1" fill="#0000ff"/>
<rect x="335" y="53" width="1" height="23" fill="#0000ff"/>
<rect x="333" y="59" width="5" height="1" fill="#0000ff"/>
<rect x="333" y="64" width="4" height="1" fill="#0000ff"/>
<rect x="332" y="60" width="1" height="4" fill="#0000ff"/>
<rect x="337" y="59" width="1" height="5" fill="#0000ff"/>
<rect x="351" y="57" width="11" height="1" fill="#0000ff"/>
<rect x="356" y="51" width="1" height="11" fill="#0000ff"/>
<rect x="354" y="55" width="5" height="1" fill="#0000ff"/>
<rect x="354" y="60" width="4" height="1" fill="#0000ff"/>
<rect x="353" y="56" width="1" height="4" fill="#0000ff"/>
<rect x="358" y="55" width="1" height="5" fill="#0000ff"/>
<rect x="371" y="58" width="11" height="1" fill="#0000ff"/>
<rect x="376" y="54" width="1" height="9" fill="#0000ff"/>
<rect x="374" y="56" width="5" height="1" fill="#0000ff"/>
<rect x="374" y="61" width="4" height="1" fill="#0000ff"/>
<rect x="373" y="57" width="1" height="4" fill="#0000ff"/>
<rect x="378" y="56" width="1" height="5" fill="#0000ff"/>
<rect x="424" y="69" width="8" height="1" fill="#0000ff"/>
<rect x="427" y="62" width="1" height="19" fill="#0000ff"/>
<rect x="425" y="67" width="5" height="1" fill="#0000ff"/>
<rect x="425" y="72" width="4" height="1" fill="#0000ff"/>
<rect x="424" y="68" width="1" height="4" fill="#0000ff"/>
<rect x="429" y="67" width="1" height="5" fill="#0000ff"/>
<rect x="445" y="82" width="8" height="1" fill="#0000ff"/>
<rect x="449" y="72" width="1" height="93" fill="#0000ff"/>
<rect x="447" y="80" width="5" height="1" fill="#0000ff"/>
<rect x="447" y="85" width="4" height="1" fill="#0000ff"/>
<rect x="446" y="81" width="1" height="4" fill="#0000ff"/>
<rect x="451" y="80" width="1" height="5" fill="#0000ff"/>
<rect x="479" y="72" width="8" height="1" fill="#0000ff"/>
<rect x="483" y="66" width="1" height="15" fill="#0000ff"/>
<rect x="481" y="70" width="5" height="1" fill="#0000ff"/>
<rect x="481" y="75" width="4" height="1" fill="#0000ff"/>
<rect x="480" y="71" width="1" height="4" fill="#0000ff"/>
<rect x="485" y="70" width="1" height="5" fill="#0000ff"/>
<rect x="549" y="89" width="7" height="1" fill="#0000ff"/>
<rect x="552" y="80" width="1" height="36" fill="#0000ff"/>
<rect x="550" y="87" width="5" height="1" fill="#0000ff"/>
<rect x="550" y="92" width="4" height="1" fill="#0000ff"/>
<rect x="549" y="88" width="1" height="4" fill="#0000ff"/>
<rect x="554" y="87" width="1" height="5" fill="#0000ff"/>
<rect x="567" y="92" width="7" height="1" fill="#0000ff"/>
<rect x="570" y="81" width="1" height="43" fill="#0000ff"/>
<rect x="568" y="90" width="5" height="1" fill="#0000ff"/>
<rect x="568" y="95" width="4" height="1" fill="#0000ff"/>
<rect x="567" y="91" width="1" height="4" fill="#0000ff"/>
<rect x="572" y="90" width="1" height="5" fill="#0000ff"/>
<rect x="108" y="104" width="21" height="1" fill="#ff0000"/>
<rect x="128" y="94" width="19" height="1" fill="#ff0000"/>
<rect x="128" y="94" width="1" height="11" fill="#ff0000"/>
<rect x="146" y="84" width="18" height="1" fill="#ff0000"/>
<rect x="146" y="84" width="1" height="11" fill="#ff0000"/>
<rect x="163" y="77" width="17" height="1" fill="#ff0000"/>
<rect x="163" y="77" width="1" height="8" fill="#ff0000"/>
<rect x="179" y="71" width="16" height="1" fill="#ff0000"/>
<rect x="179" y="71" width="1" height="7" fill="#ff0000"/>
<rect x="194" y="66" width="16" height="1" fill="#ff0000"/>
<rect x="194" y="66" width="1" height="6" fill="#ff0000"/>
<rect x="209" y="62" width="16" height="1" fill="#ff0000"/>
<rect x="209" y="62" width="1" height="5" fill="#ff0000"/>
<rect x="224" y="60" width="15" height="1" fill="#ff0000"/>
<rect x="224" y="60" width="1" height="3" fill="#ff0000"/>
<rect x="238" y="59" width="14" height="1" fill="#ff0000"/>
<rect x="238" y="59" width="1" height="2" fill="#ff0000"/>
<rect x="251" y="59" width="14" height="1" fill="#ff0000"/>
<rect x="251" y="59" width="1" height="1" fill="#ff0000"/>
<rect x="264" y="60" width="11" height="1" fill="#ff0000"/>
<rect x="264" y="59" width="1" height="2" fill="#ff0000"/>
<rect x="274" y="60" width="12" height="1" fill="#ff0000"/>
<rect x="274" y="60" width="1" height="1" fill="#ff0000"/>
<rect x="285" y="63" width="13" height="1" fill="#ff0000"/>
<rect x="285" y="60" width="1" height="4" fill="#ff0000"/>
<rect x="297" y="66" width="13" height="1" fill="#ff0000"/>
<rect x="297" y="63" width="1" height="4" fill="#ff0000"/>
<rect x="309" y="70" width="12" height="1" fill="#ff0000"/>
<rect x="309" y="66" width="1" height="5" fill="#ff0000"/>
<rect x="320" y="73" width="11" height="1" fill="#ff0000"/>
<rect x="320" y="70" width="1" height="4" fill="#ff0000"/>
<rect x="330" y="77" width="11" height="1" fill="#ff0000"/>
<rect x="330" y="73" width="1" height="5" fill="#ff0000"/>
<rect x="340" y="81" width="12" height="1" fill="#ff0000"/>
<rect x="340" y="77" width="1" height="5" fill="#ff0000"/>
<rect x="351" y="87" width="11" height="1" fill="#ff0000"/>
<rect x="351" y="81" width="1" height="7" fill="#ff0000"/>
<rect x="361" y="92" width="11" height="1" fill="#ff0000"/>
<rect x="361" y="87" width="1" height="6" fill="#ff0000"/>
<rect x="371" y="98" width="11" height="1" fill="#ff0000"/>
<rect x="371" y="92" width="1" height="7" fill="#ff0000"/>
<rect x="381" y="105" width="11" height="1" fill="#ff0000"/>
<rect x="381" y="98" width="1" height="8" fill="#ff0000"/>
<rect x="391" y="113" width="10" height="1" fill="#ff0000"/>
<rect x="391" y="105" width="1" height="9" fill="#ff0000"/>
<rect x="400" y="121" width="10" height="1" fill="#ff0000"/>
<rect x="400" y="113" width="1" height="9" fill="#ff0000"/>
<rect x="409" y="128" width="8" height="1" fill="#ff0000"/>
<rect x="409" y="121" width="1" height="8" fill="#ff0000"/>
<rect x="416" y="134" width="9" height="1" fill="#ff0000"/>
<rect x="416" y="128" width="1" height="7" fill="#ff0000"/>
<rect x="424" y="140" width="8" height="1" fill="#ff0000"/>
<rect x="424" y="134" width="1" height="7" fill="#ff0000"/>
<rect x="431" y="147" width="8" height="1" fill="#ff0000"/>
<rect x="431" y="140" width="1" height="8" fill="#ff0000"/>
<rect x="438" y="154" width="8" height="1" fill="#ff0000"/>
<rect x="438" y="147" width="1" height="8" fill="#ff0000"/>
<rect x="445" y="161" width="8" height="1" fill="#ff0000"/>
<rect x="445" y="154" width="1" height="8" fill="#ff0000"/>
<rect x="452" y="169" width="8" height="1" fill="#ff0000"/>
<rect x="452" y="161" width="1" height="9" fill="#ff0000"/>
<rect x="459" y="176" width="8" height="1" fill="#ff0000"/>
<rect x="459" y="169" width="1" height="8" fill="#ff0000"/>
<rect x="466" y="184" width="8" height="1" fill="#ff0000"/>
<rect x="466" y="176" width="1" height="9" fill="#ff0000"/>
<rect x="473" y="192" width="7" height="1" fill="#ff0000"/>
<rect x="473" y="184" width="1" height="9" fill="#ff0000"/>
<rect x="479" y="201" width="8" height="1" fill="#ff0000"/>
<rect x="479" y="192" width="1" height="10" fill="#ff0000"/>
<rect x="486" y="210" width="8" height="1" fill="#ff0000"/>
<rect x="486" y="201" width="1" height="10" fill="#ff0000"/>
<rect x="493" y="219" width="8" height="1" fill="#ff0000"/>
<rect x="493" y="210" width="1" height="10" fill="#ff0000"/>
<rect x="500" y="229" width="7" height="1" fill="#ff0000"/>
<rect x="500" y="219" width="1" height="11" fill="#ff0000"/>
<rect x="506" y="238" width="8" height="1" fill="#ff0000"/>
<rect x="506" y="229" width="1" height="10" fill="#ff0000"/>
<rect x="513" y="249" width="7" height="1" fill="#ff0000"/>
<rect x="513" y="238" width="1" height="12" fill="#ff0000"/>
<rect x="519" y="259" width="7" height="1" fill="#ff0000"/>
<rect x="519" y="249" width="1" height="11" fill="#ff0000"/>
<rect x="525" y="270" width="7" height="1" fill="#ff0000"/>
<rect x="525" y="259" width="1" height="12" fill="#ff0000"/>
<rect x="531" y="281" width="7" height="1" fill="#ff0000"/>
<rect x="531" y="270" width="1" height="12" fill="#ff0000"/>
<rect x="537" y="293" width="7" height="1" fill="#ff0000"/>
<rect x="537" y="281" width="1" height="13" fill="#ff0000"/>
<rect x="543" y="305" width="7" height="1" fill="#ff0000"/>
<rect x="543" y="293" width="1" height="13" fill="#ff0000"/>
<rect x="549" y="317" width="7" height="1" fill="#ff0000"/>
<rect x="549" y="305" width="1" height="13" fill="#ff0000"/>
<rect x="555" y="329" width="7" height="1" fill="#ff0000"/>
<rect x="555" y="317" width="1" height="13" fill="#ff0000"/>
<rect x="561" y="343" width="7" height="1" fill="#ff0000"/>
<rect x="561" y="329" width="1" height="15" fill="#ff0000"/>
<rect x="567" y="357" width="7" height="1" fill="#ff0000"/>
<rect x="567" y="343" width="1" height="15" fill="#ff0000"/>
<rect x="573" y="366" width="7" height="1" fill="#ff0000"/>
<rect x="573" y="357" width="1" height="10" fill="#ff0000"/>
<rect x="146" y="59" width="18" height="1" fill="#7fff00"/>
<rect x="155" y="59" width="1" height="22" fill="#7fff00"/>
<rect x="152" y="80" width="7" height="1" fill="#7fff00"/>
<rect x="152" y="81" width="6" height="1" fill="#7fff00"/>
<rect x="153" y="82" width="5" height="1" fill="#7fff00"/>
<rect x="154" y="83" width="3" height="1" fill="#7fff00"/>
<rect x="154" y="84" width="2" height="1" fill="#7fff00"/>
<rect x="155" y="85" width="1" height="1" fill="#7fff00"/>
<rect x="194" y="56" width="16" height="1" fill="#7fff00"/>
<rect x="201" y="56" width="1" height="22" fill="#7fff00"/>
<rect x="198" y="77" width="7" height="1" fill="#7fff00"/>
<rect x="198" y="78" width="6" height="1" fill="#7fff00"/>
<rect x="199" y="79" width="5" height="1" fill="#7fff00"/>
<rect x="200" y="80" width="3" height="1" fill="#7fff00"/>
<rect x="200" y="81" width="2" height="1" fill="#7fff00"/>
<rect x="201" y="82" width="1" height="1" fill="#7fff00"/>
<rect x="209" y="53" width="16" height="1" fill="#7fff00"/>
<rect x="217" y="53" width="1" height="22" fill="#7fff00"/>
<rect x="214" y="74" width="7" height="1" fill="#7fff00"/>
<rect x="214" y="75" width="6" height="1" fill="#7fff00"/>
<rect x="215" y="76" width="5" height="1" fill="#7fff00"/>
<rect x="216" y="77" width="3" height="1" fill="#7fff00"/>
<rect x="216" y="78" width="2" height="1" fill="#7fff00"/>
<rect x="217" y="79" width="1" height="1" fill="#7fff00"/>
<rect x="238" y="51" width="14" height="1" fill="#7fff00"/>
<rect x="244" y="51" width="1" height="22" fill="#7fff00"/>
<rect x="241" y="72" width="7" height="1" fill="#7fff00"/>
<rect x="241" y="73" width="6" height="1" fill="#7fff00"/>
<rect x="242" y="74" width="5" height="1" fill="#7fff00"/>
<rect x="243" y="75" width="3" height="1" fill="#7fff00"/>
<rect x="243" y="76" width="2" height="1" fill="#7fff00"/>
<rect x="244" y="77" width="1" height="1" fill="#7fff00"/>
<rect x="409" y="64" width="8" height="1" fill="#7fff00"/>
<rect x="412" y="64" width="1" height="22" fill="#7fff00"/>
<rect x="409" y="85" width="7" height="1" fill="#7fff00"/>
<rect x="409" y="86" width="6" height="1" fill="#7fff00"/>
<rect x="410" y="87" width="5" height="1" fill="#7fff00"/>
<rect x="411" y="88" width="3" height="1" fill="#7fff00"/>
<rect x="411" y="89" width="2" height="1" fill="#7fff00"/>
<rect x="412" y="90" width="1" height="1" fill="#7fff00"/>
<rect x="431" y="70" width="8" height="1" fill="#7fff00"/>
<rect x="434" y="70" width="1" height="22" fill="#7fff00"/>
<rect x="431" y="91" width="7" height="1" fill="#7fff00"/>
<rect x="431" y="92" width="6" height="1" fill="#7fff00"/>
<rect x="432" y="93" width="5" height="1" fill="#7fff00"/>
<rect x="433" y="94" width="3" height="1" fill="#7fff00"/>
<rect x="433" y="95" width="2" height="1" fill="#7fff00"/>
<rect x="434" y="96" width="1" height="1" fill="#7fff00"/>
<rect x="438" y="70" width="8" height="1" fill="#7fff00"/>
<rect x="442" y="70" width="1" height="22" fill="#7fff00"/>
<rect x="439" y="91" width="7" height="1" fill="#7fff00"/>
<rect x="439" y="92" width="6" height="1" fill="#7fff00"/>
<rect x="440" y="93" width="5" height="1" fill="#7fff00"/>
<rect x="441" y="94" width="3" height="1" fill="#7fff00"/>
<rect x="441" y="95" width="2" height="1" fill="#7fff00"/>
<rect x="442" y="96" width="1" height="1" fill="#7fff00"/>
<rect x="459" y="73" width="8" height="1" fill="#7fff00"/>
<rect x="463" y="73" width="1" height="22" fill="#7fff00"/>
<rect x="460" y="94" width="7" height="1" fill="#7fff00"/>
<rect x="460" y="95" width="6" height="1" fill="#7fff00"/>
<rect x="461" y="96" width="5" height="1" fill="#7fff00"/>
<rect x="462" y="97" width="3" height="1" fill="#7fff00"/>
<rect x="462" y="98" width="2" height="1" fill="#7fff00"/>
<rect x="463" y="99" width="1" height="1" fill="#7fff00"/>
<rect x="466" y="73" width="8" height="1" fill="#7fff00"/>
<rect x="469" y="73" width="1" height="22" fill="#7fff00"/>
<rect x="466" y="94" width="7" height="1" fill="#7fff00"/>
<rect x="466" y="95" width="6" height="1" fill="#7fff00"/>
<rect x="467" y="96" width="5" height="1" fill="#7fff00"/>
<rect x="468" y="97" width="3" height="1" fill="#7fff00"/>
<rect x="468" y="98" width="2" height="1" fill="#7fff00"/>
<rect x="469" y="99" width="1" height="1" fill="#7fff00"/>
<rect x="473" y="74" width="7" height="1" fill="#7fff00"/>
<rect x="476" y="74" width="1" height="22" fill="#7fff00"/>
<rect x="473" y="95" width="7" height="1" fill="#7fff00"/>
<rect x="473" y="96" width="6" height="1" fill="#7fff00"/>
<rect x="474" y="97" width="5" height="1" fill="#7fff00"/>
<rect x="475" y="98" width="3" height="1" fill="#7fff00"/>
<rect x="475" y="99" width="2" height="1" fill="#7fff00"/>
<rect x="476" y="100" width="1" height="1" fill="#7fff00"/>
<rect x="500" y="74" width="7" height="1" fill="#7fff00"/>
<rect x="503" y="74" width="1" height="22" fill="#7fff00"/>
<rect x="500" y="95" width="7" height="1" fill="#7fff00"/>
<rect x="500" y="96" width="6" height="1" fill="#7fff00"/>
<rect x="501" y="97" width="5" height="1" fill="#7fff00"/>
<rect x="502" y="98" width="3" height="1" fill="#7fff00"/>
<rect x="502" y="99" width="2" height="1" fill="#7fff00"/>
<rect x="503" y="100" width="1" height="1" fill="#7fff00"/>
<rect x="525" y="78" width="7" height="1" fill="#7fff00"/>
<rect x="528" y="78" width="1" height="22" fill="#7fff00"/>
<rect x="525" y="99" width="7" height="1" fill="#7fff00"/>
<rect x="525" y="100" width="6" height="1" fill="#7fff00"/>
<rect x="526" y="101" width="5" height="1" fill="#7fff00"/>
<rect x="527" y="102" width="3" height="1" fill="#7fff00"/>
<rect x="527" y="103" width="2" height="1" fill="#7fff00"/>
<rect x="528" y="104" width="1" height="1" fill="#7fff00"/>
<rect x="537" y="79" width="7" height="1" fill="#7fff00"/>
<rect x="540" y="79" width="1" height="22" fill="#7fff00"/>
<rect x="537" y="100" width="7" height="1" fill="#7fff00"/>
<rect x="537" y="101" width="6" height="1" fill="#7fff00"/>
<rect x="538" y="102" width="5" height="1" fill="#7fff00"/>
<rect x="539" y="103" width="3" height="1" fill="#7fff00"/>
<rect x="539" y="104" width="2" height="1" fill="#7fff00"/>
<rect x="540" y="105" width="1" height="1" fill="#7fff00"/>
<rect x="128" y="65" width="19" height="1" fill="#7fff00"/>
<rect x="137" y="56" width="1" height="25" fill="#7fff00"/>
<rect x="134" y="62" width="7" height="1" fill="#7fff00"/>
<rect x="134" y="68" width="7" height="1" fill="#7fff00"/>
<rect x="134" y="62" width="1" height="7" fill="#7fff00"/>
<rect x="140" y="62" width="1" height="7" fill="#7fff00"/>
<rect x="163" y="69" width="17" height="1" fill="#7fff00"/>
<rect x="171" y="59" width="1" height="54" fill="#7fff00"/>
<rect x="168" y="66" width="7" height="1" fill="#7fff00"/>
<rect x="168" y="72" width="7" height="1" fill="#7fff00"/>
<rect x="168" y="66" width="1" height="7" fill="#7fff00"/>
<rect x="174" y="66" width="1" height="7" fill="#7fff00"/>
<rect x="179" y="67" width="16" height="1" fill="#7fff00"/>
<rect x="186" y="57" width="1" height="53" fill="#7fff00"/>
<rect x="183" y="64" width="7" height="1" fill="#7fff00"/>
<rect x="183" y="70" width="7" height="1" fill="#7fff00"/>
<rect x="183" y="64" width="1" height="7" fill="#7fff00"/>
<rect x="189" y="64" width="1" height="7" fill="#7fff00"/>
<rect x="224" y="45" width="15" height="1" fill="#7fff00"/>
<rect x="231" y="40" width="1" height="11" fill="#7fff00"/>
<rect x="228" y="42" width="7" height="1" fill="#7fff00"/>
<rect x="228" y="48" width="7" height="1" fill="#7fff00"/>
<rect x="228" y="42" width="1" height="7" fill="#7fff00"/>
<rect x="234" y="42" width="1" height="7" fill="#7fff00"/>
<rect x="251" y="49" width="14" height="1" fill="#7fff00"/>
<rect x="257" y="45" width="1" height="9" fill="#7fff00"/>
<rect x="254" y="46" width="7" height="1" fill="#7fff00"/>
<rect x="254" y="52" width="7" height="1" fill="#7fff00"/>
<rect x="254" y="46" width="1" height="7" fill="#7fff00"/>
<rect x="260" y="46" width="1" height="7" fill="#7fff00"/>
<rect x="264" y="60" width="11" height="1" fill="#7fff00"/>
<rect x="269" y="55" width="1" height="40" fill="#7fff00"/>
<rect x="266" y="57" width="7" height="1" fill="#7fff00"/>
<rect x="266" y="63" width="7" height="1" fill="#7fff00"/>
<rect x="266" y="57" width="1" height="7" fill="#7fff00"/>
<rect x="272" y="57" width="1" height="7" fill="#7fff00"/>
<rect x="274" y="49" width="12" height="1" fill="#7fff00"/>
<rect x="280" y="43" width="1" height="13" fill="#7fff00"/>
<rect x="277" y="46" width="7" height="1" fill="#7fff00"/>
<rect x="277" y="52" width="7" height="1" fill="#7fff00"/>
<rect x="277" y="46" width="1" height="7" fill="#7fff00"/>
<rect x="283" y="46" width="1" height="7" fill="#7fff00"/>
<rect x="285" y="62" width="13" height="1" fill="#7fff00"/>
<rect x="291" y="59" width="1" height="26" fill="#7fff00"/>
<rect x="288" y="59" width="7" height="1" fill="#7fff00"/>
<rect x="288" y="65" width="7" height="1" fill="#7fff00"/>
<rect x="288" y="59" width="1" height="7" fill="#7fff00"/>
<rect x="294" y="59" width="1" height="7" fill="#7fff00"/>
<rect x="320" y="63" width="11" height="1" fill="#7fff00"/>
<rect x="325" y="59" width="1" height="32" fill="#7fff00"/>
<rect x="322" y="60" width="7" height="1" fill="#7fff00"/>
<rect x="322" y="66" width="7" height="1" fill="#7fff00"/>
<rect x="322" y="60" width="1" height="7" fill="#7fff00"/>
<rect x="328" y="60" width="1" height="7" fill="#7fff00"/>
<rect x="330" y="65" width="11" height="1" fill="#7fff00"/>
<rect x="335" y="60" width="1" height="38" fill="#7fff00"/>
<rect x="332" y="62" width="7" height="1" fill="#7fff00"/>
<rect x="332" y="68" width="7" height="1" fill="#7fff00"/>
<rect x="332" y="62" width="1" height="7" fill="#7fff00"/>
<rect x="338" y="62" width="1" height="7" fill="#7fff00"/>
<rect x="340" y="56" width="12" height="1" fill="#7fff00"/>
<rect x="346" y="50" width="1" height="13" fill="#7fff00"/>
<rect x="343" y="53" width="7" height="1" fill="#7fff00"/>
<rect x="343" y="59" width="7" height="1" fill="#7fff00"/>
<rect x="343" y="53" width="1" height="7" fill="#7fff00"/>
<rect x="349" y="53" width="1" height="7" fill="#7fff00"/>
<rect x="391" y="74" width="10" height="1" fill="#7fff00"/>
<rect x="395" y="63" width="1" height="51" fill="#7fff00"/>
<rect x="392" y="71" width="7" height="1" fill="#7fff00"/>
<rect x="392" y="77" width="7" height="1" fill="#7fff00"/>
<rect x="392" y="71" width="1" height="7" fill="#7fff00"/>
<rect x="398" y="71" width="1" height="7" fill="#7fff00"/>
<rect x="531" y="75" width="7" height="1" fill="#7fff00"/>
<rect x="534" y="71" width="1" height="9" fill="#7fff00"/>
<rect x="531" y="72" width="7" height="1" fill="#7fff00"/>
<rect x="531" y="78" width="7" height="1" fill="#7fff00"/>
<rect x="531" y="72" width="1" height="7" fill="#7fff00"/>
<rect x="537" y="72" width="1" height="7" fill="#7fff00"/>
<rect x="555" y="82" width="7" height="1" fill="#7fff00"/>
<rect x="558" y="78" width="1" height="10" fill="#7fff00"/>
<rect x="555" y="79" width="7" height="1" fill="#7fff00"/>
<rect x="555" y="85" width="7" height="1" fill="#7fff00"/>
<rect x="555" y="79" width="1" height="7" fill="#7fff00"/>
<rect x="561" y="79" width="1" height="7" fill="#7fff00"/>
<rect x="108" y="98" width="21" height="1" fill="#ff0000"/>
<rect x="128" y="88" width="19" height="1" fill="#ff0000"/>
<rect x="128" y="88" width="1" height="11" fill="#ff0000"/>
<rect x="146" y="77" width="18" height="1" fill="#ff0000"/>
<rect x="146" y="77" width="1" height="12" fill="#ff0000"/>
<rect x="163" y="70" width="17" height="1" fill="#ff0000"/>
<rect x="163" y="70" width="1" height="8" fill="#ff0000"/>
<rect x="179" y="65" width="16" height="1" fill="#ff0000"/>
<rect x="179" y="65" width="1" height="6" fill="#ff0000"/>
<rect x="194" y="60" width="16" height="1" fill="#ff0000"/>
<rect x="194" y="60" width="1" height="6" fill="#ff0000"/>
<rect x="209" y="57" width="16" height="1" fill="#ff0000"/>
<rect x="209" y="57" width="1" height="4" fill="#ff0000"/>
<rect x="224" y="55" width="15" height="1" fill="#ff0000"/>
<rect x="224" y="55" width="1" height="3" fill="#ff0000"/>
<rect x="238" y="55" width="14" height="1" fill="#ff0000"/>
<rect x="238" y="55" width="1" height="1" fill="#ff0000"/>
<rect x="251" y="55" width="14" height="1" fill="#ff0000"/>
<rect x="251" y="55" width="1" height="1" fill="#ff0000"/>
<rect x="264" y="56" width="11" height="1" fill="#ff0000"/>
<rect x="264" y="55" width="1" height="2" fill="#ff0000"/>
<rect x="274" y="57" width="12" height="1" fill="#ff0000"/>
<rect x="274" y="56" width="1" height="2" fill="#ff0000"/>
<rect x="285" y="60" width="13" height="1" fill="#ff0000"/>
<rect x="285" y="57" width="1" height="4" fill="#ff0000"/>
<rect x="297" y="63" width="13" height="1" fill="#ff0000"/>
<rect x="297" y="60" width="1" height="4" fill="#ff0000"/>
<rect x="309" y="67" width="12" height="1" fill="#ff0000"/>
<rect x="309" y="63" width="1" height="5" fill="#ff0000"/>
<rect x="320" y="70" width="11" height="1" fill="#ff0000"/>
<rect x="320" y="67" width="1" height="4" fill="#ff0000"/>
<rect x="330" y="74" width="11" height="1" fill="#ff0000"/>
<rect x="330" y="70" width="1" height="5" fill="#ff0000"/>
<rect x="340" y="78" width="12" height="1" fill="#ff0000"/>
<rect x="340" y="74" width="1" height="5" fill="#ff0000"/>
<rect x="351" y="84" width="11" height="1" fill="#ff0000"/>
<rect x="351" y="78" width="1" height="7" fill="#ff0000"/>
<rect x="361" y="90" width="11" height="1" fill="#ff0000"/>
<rect x="361" y="84" width="1" height="7" fill="#ff0000"/>
<rect x="371" y="96" width="11" height="1" fill="#ff0000"/>
<rect x="371" y="90" width="1" height="7" fill="#ff0000"/>
<rect x="381" y="102" width="11" height="1" fill="#ff0000"/>
<rect x="381" y="96" width="1" height="7" fill="#ff0000"/>
<rect x="391" y="110" width="10" height="1" fill="#ff0000"/>
<rect x="391" y="102" width="1" height="9" fill="#ff0000"/>
<rect x="400" y="118" width="10" height="1" fill="#ff0000"/>
<rect x="400" y="110" width="1" height="9" fill="#ff0000"/>
<rect x="409" y="125" width="8" height="1" fill="#ff0000"/>
<rect x="409" y="118" width="1" height="8" fill="#ff0000"/>
<rect x="416" y="131" width="9" height="1" fill="#ff0000"/>
<rect x="416" y="125" width="1" height="7" fill="#ff0000"/>
<rect x="424" y="137" width="8" height="1" fill="#ff0000"/>
<rect x="424" y="131" width="1" height="7" fill="#ff0000"/>
<rect x="431" y="144" width="8" height="1" fill="#ff0000"/>
<rect x="431" y="137" width="1" height="8" fill="#ff0000"/>
<rect x="438" y="151" width="8" height="1" fill="#ff0000"/>
<rect x="438" y="144" width="1" height="8" fill="#ff0000"/>
<rect x="445" y="158" width="8" height="1" fill="#ff0000"/>
<rect x="445" y="151" width="1" height="8" fill="#ff0000"/>
<rect x="452" y="166" width="8" height="1" fill="#ff0000"/>
<rect x="452" y="158" width="1" height="9" fill="#ff0000"/>
<rect x="459" y="173" width="8" height="1" fill="#ff0000"/>
<rect x="459" y="166" width="1" height="8" fill="#ff0000"/>
<rect x="466" y="181" width="8" height="1" fill="#ff0000"/>
<rect x="466" y="173" width="1" height="9" fill="#ff0000"/>
<rect x="473" y="190" width="7" height="1" fill="#ff0000"/>
<rect x="473" y="181" width="1" height="10" fill="#ff0000"/>
<rect x="479" y="198" width="8" height="1" fill="#ff0000"/>
<rect x="479" y="190" width="1" height="9" fill="#ff0000"/>
<rect x="486" y="208" width="8" height="1" fill="#ff0000"/>
<rect x="486" y="198" width="1" height="11" fill="#ff0000"/>
<rect x="493" y="217" width="8" height="1" fill="#ff0000"/>
<rect x="493" y="208" width="1" height="10" fill="#ff0000"/>
<rect x="500" y="226" width="7" height="1" fill="#ff0000"/>
<rect x="500" y="217" width="1" height="10" fill="#ff0000"/>
<rect x="506" y="236" width="8" height="1" fill="#ff0000"/>
<rect x="506" y="226" width="1" height="11" fill="#ff0000"/>
<rect x="513" y="246" width="7" height="1" fill="#ff0000"/>
<rect x="513" y="236" width="1" height="11" fill="#ff0000"/>
<rect x="519" y="257" width="7" height="1" fill="#ff0000"/>
<rect x="519" y="246" width="1" height="12" fill="#ff0000"/>
<rect x="525" y="268" width="7" height="1" fill="#ff0000"/>
<rect x="525" y="257" width="1" height="12" fill="#ff0000"/>
<rect x="531" y="279" width="7" height="1" fill="#ff0000"/>
<rect x="531" y="268" width="1" height="12" fill="#ff0000"/>
<rect x="537" y="291" width="7" height="1" fill="#ff0000"/>
<rect x="537" y="279" width="1" height="13" fill="#ff0000"/>
<rect x="543" y="302" width="7" height="1" fill="#ff0000"/>
<rect x="543" y="291" width="1" height="12" fill="#ff0000"/>
<rect x="549" y="315" width="7" height="1" fill="#ff0000"/>
<rect x="549" y="302" width="1" height="14" fill="#ff0000"/>
<rect x="555" y="327" width="7" height="1" fill="#ff0000"/>
<rect x="555" y="315" width="1" height="13" fill="#ff0000"/>
<rect x="561" y="341" width="7" height="1" fill="#ff0000"/>
<rect x="561" y="327" width="1" height="15" fill="#ff0000"/>
<rect x="567" y="354" width="7" height="1" fill="#ff0000"/>
<rect x="567" y="341" width="1" height="14" fill="#ff0000"/>
<rect x="573" y="366" width="7" height="1" fill="#ff0000"/>
<rect x="573" y="354" width="1" height="13" fill="#ff0000"/>
<rect x="108" y="58" width="21" height="1" fill="#ffff00"/>
<rect x="118" y="58" width="1" height="22" fill="#ffff00"/>
<rect x="115" y="79" width="7" height="1" fill="#ffff00"/>
<rect x="115" y="80" width="6" height="1" fill="#ffff00"/>
<rect x="116" y="81" width="5" height="1" fill="#ffff00"/>
<rect x="117" y="82" width="3" height="1" fill="#ffff00"/>
<rect x="117" y="83" width="2" height="1" fill="#ffff00"/>
<rect x="118" y="84" width="1" height="1" fill="#ffff00"/>
<rect x="128" y="58" width="19" height="1" fill="#ffff00"/>
<rect x="137" y="58" width="1" height="22" fill="#ffff00"/>
<rect x="134" y="79" width="7" height="1" fill="#ffff00"/>
<rect x="134" y="80" width="6" height="1" fill="#ffff00"/>
<rect x="135" y="81" width="5" height="1" fill="#ffff00"/>
<rect x="136" y="82" width="3" height="1" fill="#ffff00"/>
<rect x="136" y="83" width="2" height="1" fill="#ffff00"/>
<rect x="137" y="84" width="1" height="1" fill="#ffff00"/>
<rect x="146" y="58" width="18" height="1" fill="#ffff00"/>
<rect x="155" y="58" width="1" height="22" fill="#ffff00"/>
<rect x="152" y="79" width="7" height="1" fill="#ffff00"/>
<rect x="152" y="80" width="6" height="1" fill="#ffff00"/>
<rect x="153" y="81" width="5" height="1" fill="#ffff00"/>
<rect x="154" y="82" width="3" height="1" fill="#ffff00"/>
<rect x="154" y="83" width="2" height="1" fill="#ffff00"/>
<rect x="155" y="84" width="1" height="1" fill="#ffff00"/>
<rect x="179" y="54" width="16" height="1" fill="#ffff00"/>
<rect x="186" y="54" width="1" height="22" fill="#ffff00"/>
<rect x="183" y="75" width="7" height="1" fill="#ffff00"/>
<rect x="183" y="76" width="6" height="1" fill="#ffff00"/>
<rect x="184" y="77" width="5" height="1" fill="#ffff00"/>
<rect x="185" y="78" width="3" height="1" fill="#ffff00"/>
<rect x="185" y="79" width="2" height="1" fill="#ffff00"/>
<rect x="186" y="80" width="1" height="1" fill="#ffff00"/>
<rect x="209" y="51" width="16" height="1" fill="#ffff00"/>
<rect x="217" y="51" width="1" height="22" fill="#ffff00"/>
<rect x="214" y="72" width="7" height="1" fill="#ffff00"/>
<rect x="214" y="73" width="6" height="1" fill="#ffff00"/>
<rect x="215" y="74" width="5" height="1" fill="#ffff00"/>
<rect x="216" y="75" width="3" height="1" fill="#ffff00"/>
<rect x="216" y="76" width="2" height="1" fill="#ffff00"/>
<rect x="217" y="77" width="1" height="1" fill="#ffff00"/>
<rect x="224" y="50" width="15" height="1" fill="#ffff00"/>
<rect x="231" y="50" width="1" height="22" fill="#ffff00"/>
<rect x="228" y="71" width="7" height="1" fill="#ffff00"/>
<rect x="228" y="72" width="6" height="1" fill="#ffff00"/>
<rect x="229" y="73" width="5" height="1" fill="#ffff00"/>
<rect x="230" y="74" width="3" height="1" fill="#ffff00"/>
<rect x="230" y="75" width="2" height="1" fill="#ffff00"/>
<rect x="231" y="76" width="1" height="1" fill="#ffff00"/>
<rect x="297" y="53" width="13" height="1" fill="#ffff00"/>
<rect x="303" y="53" width="1" height="22" fill="#ffff00"/>
<rect x="300" y="74" width="7" height="1" fill="#ffff00"/>
<rect x="300" y="75" width="6" height="1" fill="#ffff00"/>
<rect x="301" y="76" width="5" height="1" fill="#ffff00"/>
<rect x="302" y="77" width="3" height="1" fill="#ffff00"/>
<rect x="302" y="78" width="2" height="1" fill="#ffff00"/>
<rect x="303" y="79" width="1" height="1" fill="#ffff00"/>
<rect x="309" y="54" width="12" height="1" fill="#ffff00"/>
<rect x="315" y="54" width="1" height="22" fill="#ffff00"/>
<rect x="312" y="75" width="7" height="1" fill="#ffff00"/>
<rect x="312" y="76" width="6" height="1" fill="#ffff00"/>
<rect x="313" y="77" width="5" height="1" fill="#ffff00"/>
<rect x="314" y="78" width="3" height="1" fill="#ffff00"/>
<rect x="314" y="79" width="2" height="1" fill="#ffff00"/>
<rect x="315" y="80" width="1" height="1" fill="#ffff00"/>
<rect x="320" y="55" width="11" height="1" fill="#ffff00"/>
<rect x="325" y="55" width="1" height="22" fill="#ffff00"/>
<rect x="322" y="76" width="7" height="1" fill="#ffff00"/>
<rect x="322" y="77" width="6" height="1" fill="#ffff00"/>
<rect x="323" y="78" width="5" height="1" fill="#ffff00"/>
<rect x="324" y="79" width="3" height="1" fill="#ffff00"/>
<rect x="324" y="80" width="2" height="1" fill="#ffff00"/>
<rect x="325" y="81" width="1" height="1" fill="#ffff00"/>
<rect x="330" y="56" width="11" height="1" fill="#ffff00"/>
<rect x="335" y="56" width="1" height="22" fill="#ffff00"/>
<rect x="332" y="77" width="7" height="1" fill="#ffff00"/>
<rect x="332" y="78" width="6" height="1" fill="#ffff00"/>
<rect x="333" y="79" width="5" height="1" fill="#ffff00"/>
<rect x="334" y="80" width="3" height="1" fill="#ffff00"/>
<rect x="334" y="81" width="2" height="1" fill="#ffff00"/>
<rect x="335" y="82" width="1" height="1" fill="#ffff00"/>
<rect x="340" y="59" width="12" height="1" fill="#ffff00"/>
<rect x="346" y="59" width="1" height="22" fill="#ffff00"/>
<rect x="343" y="80" width="7" height="1" fill="#ffff00"/>
<rect x="343" y="81" width="6" height="1" fill="#ffff00"/>
<rect x="344" y="82" width="5" height="1" fill="#ffff00"/>
<rect x="345" y="83" width="3" height="1" fill="#ffff00"/>
<rect x="345" y="84" width="2" height="1" fill="#ffff00"/>
<rect x="346" y="85" width="1" height="1" fill="#ffff00"/>
<rect x="351" y="60" width="11" height="1" fill="#ffff00"/>
<rect x="356" y="60" width="1" height="22" fill="#ffff00"/>
<rect x="353" y="81" width="7" height="1" fill="#ffff00"/>
<rect x="353" y="82" width="6" height="1" fill="#ffff00"/>
<rect x="354" y="83" width="5" height="1" fill="#ffff00"/>
<rect x="355" y="84" width="3" height="1" fill="#ffff00"/>
<rect x="355" y="85" width="2" height="1" fill="#ffff00"/>
<rect x="356" y="86" width="1" height="1" fill="#ffff00"/>
<rect x="361" y="59" width="11" height="1" fill="#ffff00"/>
<rect x="366" y="59" width="1" height="22" fill="#ffff00"/>
<rect x="363" y="80" width="7" height="1" fill="#ffff00"/>
<rect x="363" y="81" width="6" height="1" fill="#ffff00"/>
<rect x="364" y="82" width="5" height="1" fill="#ffff00"/>
<rect x="365" y="83" width="3" height="1" fill="#ffff00"/>
<rect x="365" y="84" width="2" height="1" fill="#ffff00"/>
<rect x="366" y="85" width="1" height="1" fill="#ffff00"/>
<rect x="371" y="59" width="11" height="1" fill="#ffff00"/>
<rect x="376" y="59" width="1" height="22" fill="#ffff00"/>
<rect x="373" y="80" width="7" height="1" fill="#ffff00"/>
<rect x="373" y="81" width="6" height="1" fill="#ffff00"/>
<rect x="374" y="82" width="5" height="1" fill="#ffff00"/>
<rect x="375" y="83" width="3" height="1" fill="#ffff00"/>
<rect x="375" y="84" width="2" height="1" fill="#ffff00"/>
<rect x="376" y="85" width="1" height="1" fill="#ffff00"/>
<rect x="381" y="59" width="11" height="1" fill="#ffff00"/>
<rect x="386" y="59" width="1" height="22" fill="#ffff00"/>
<rect x="383" y="80" width="7" height="1" fill="#ffff00"/>
<rect x="383" y="81" width="6" height="1" fill="#ffff00"/>
<rect x="384" y="82" width="5" height="1" fill="#ffff00"/>
<rect x="385" y="83" width="3" height="1" fill="#ffff00"/>
<rect x="385" y="84" width="2" height="1" fill="#ffff00"/>
<rect x="386" y="85" width="1" height="1" fill="#ffff00"/>
<rect x="391" y="64" width="10" height="1" fill="#ffff00"/>
<rect x="395" y="64" width="1" height="22" fill="#ffff00"/>
<rect x="392" y="85" width="7" height="1" fill="#ffff00"/>
<rect x="392" y="86" width="6" height="1" fill="#ffff00"/>
<rect x="393" y="87" width="5" height="1" fill="#ffff00"/>
<rect x="394" y="88" width="3" height="1" fill="#ffff00"/>
<rect x="394" y="89" width="2" height="1" fill="#ffff00"/>
<rect x="395" y="90" width="1" height="1" fill="#ffff00"/>
<rect x="400" y="63" width="10" height="1" fill="#ffff00"/>
<rect x="404" y="63" width="1" height="22" fill="#ffff00"/>
<rect x="401" y="84" width="7" height="1" fill="#ffff00"/>
<rect x="401" y="85" width="6" height="1" fill="#ffff00"/>
<rect x="402" y="86" width="5" height="1" fill="#ffff00"/>
<rect x="403" y="87" width="3" height="1" fill="#ffff00"/>
<rect x="403" y="88" width="2" height="1" fill="#ffff00"/>
<rect x="404" y="89" width="1" height="1" fill="#ffff00"/>
<rect x="409" y="63" width="8" height="1" fill="#ffff00"/>
<rect x="412" y="63" width="1" height="22" fill="#ffff00"/>
<rect x="409" y="84" width="7" height="1" fill="#ffff00"/>
<rect x="409" y="85" width="6" height="1" fill="#ffff00"/>
<rect x="410" y="86" width="5" height="1" fill="#ffff00"/>
<rect x="411" y="87" width="3" height="1" fill="#ffff00"/>
<rect x="411" y="88" width="2" height="1" fill="#ffff00"/>
<rect x="412" y="89" width="1" height="1" fill="#ffff00"/>
<rect x="416" y="66" width="9" height="1" fill="#ffff00"/>
<rect x="420" y="66" width="1" height="22" fill="#ffff00"/>
<rect x="417" y="87" width="7" height="1" fill="#ffff00"/>
<rect x="417" y="88" width="6" height="1" fill="#ffff00"/>
<rect x="418" y="89" width="5" height="1" fill="#ffff00"/>
<rect x="419" y="90" width="3" height="1" fill="#ffff00"/>
<rect x="419" y="91" width="2" height="1" fill="#ffff00"/>
<rect x="420" y="92" width="1" height="1" fill="#ffff00"/>
<rect x="424" y="67" width="8" height="1" fill="#ffff00"/>
<rect x="427" y="67" width="1" height="22" fill="#ffff00"/>
<rect x="424" y="88" width="7" height="1" fill="#ffff00"/>
<rect x="424" y="89" width="6" height="1" fill="#ffff00"/>
<rect x="425" y="90" width="5" height="1" fill="#ffff00"/>
<rect x="426" y="91" width="3" height="1" fill="#ffff00"/>
<rect x="426" y="92" width="2" height="1" fill="#ffff00"/>
<rect x="427" y="93" width="1" height="1" fill="#ffff00"/>
<rect x="431" y="69" width="8" height="1" fill="#ffff00"/>
<rect x="434" y="69" width="1" height="22" fill="#ffff00"/>
<rect x="431" y="90" width="7" height="1" fill="#ffff00"/>
<rect x="431" y="91" width="6" height="1" fill="#ffff00"/>
<rect x="432" y="92" width="5" height="1" fill="#ffff00"/>
<rect x="433" y="93" width="3" height="1" fill="#ffff00"/>
<rect x="433" y="94" width="2" height="1" fill="#ffff00"/>
<rect x="434" y="95" width="1" height="1" fill="#ffff00"/>
<rect x="438" y="69" width="8" height="1" fill="#ffff00"/>
<rect x="442" y="69" width="1" height="22" fill="#ffff00"/>
<rect x="439" y="90" width="7" height="1" fill="#ffff00"/>
<rect x="439" y="91" width="6" height="1" fill="#ffff00"/>
<rect x="440" y="92" width="5" height="1" fill="#ffff00"/>
<rect x="441" y="93" width="3" height="1" fill="#ffff00"/>
<rect x="441" y="94" width="2" height="1" fill="#ffff00"/>
<rect x="442" y="95" width="1" height="1" fill="#ffff00"/>
<rect x="445" y="70" width="8" height="1" fill="#ffff00"/>
<rect x="449" y="70" width="1" height="22" fill="#ffff00"/>
<rect x="446" y="91" width="7" height="1" fill="#ffff00"/>
<rect x="446" y="92" width="6" height="1" fill="#ffff00"/>
<rect x="447" y="93" width="5" height="1" fill="#ffff00"/>
<rect x="448" y="94" width="3" height="1" fill="#ffff00"/>
<rect x="448" y="95" width="2" height="1" fill="#ffff00"/>
<rect x="449" y="96" width="1" height="1" fill="#ffff00"/>
<rect x="452" y="71" width="8" height="1" fill="#ffff00"/>
<rect x="456" y="71" width="1" height="22" fill="#ffff00"/>
<rect x="453" y="92" width="7" height="1" fill="#ffff00"/>
<rect x="453" y="93" width="6" height="1" fill="#ffff00"/>
<rect x="454" y="94" width="5" height="1" fill="#ffff00"/>
<rect x="455" y="95" width="3" height="1" fill="#ffff00"/>
<rect x="455" y="96" width="2" height="1" fill="#ffff00"/>
<rect x="456" y="97" width="1" height="1" fill="#ffff00"/>
<rect x="466" y="72" width="8" height="1" fill="#ffff00"/>
<rect x="469" y="72" width="1" height="22" fill="#ffff00"/>
<rect x="466" y="93" width="7" height="1" fill="#ffff00"/>
<rect x="466" y="94" width="6" height="1" fill="#ffff00"/>
<rect x="467" y="95" width="5" height="1" fill="#ffff00"/>
<rect x="468" y="96" width="3" height="1" fill="#ffff00"/>
<rect x="468" y="97" width="2" height="1" fill="#ffff00"/>
<rect x="469" y="98" width="1" height="1" fill="#ffff00"/>
<rect x="479" y="74" width="8" height="1" fill="#ffff00"/>
<rect x="483" y="74" width="1" height="22" fill="#ffff00"/>
<rect x="480" y="95" width="7" height="1" fill="#ffff00"/>
<rect x="480" y="96" width="6" height="1" fill="#ffff00"/>
<rect x="481" y="97" width="5" height="1" fill="#ffff00"/>
<rect x="482" y="98" width="3" height="1" fill="#ffff00"/>
<rect x="482" y="99" width="2" height="1" fill="#ffff00"/>
<rect x="483" y="100" width="1" height="1" fill="#ffff00"/>
<rect x="486" y="74" width="8" height="1" fill="#ffff00"/>
<rect x="490" y="74" width="1" height="22" fill="#ffff00"/>
<rect x="487" y="95" width="7" height="1" fill="#ffff00"/>
<rect x="487" y="96" width="6" height="1" fill="#ffff00"/>
<rect x="488" y="97" width="5" height="1" fill="#ffff00"/>
<rect x="489" y="98" width="3" height="1" fill="#ffff00"/>
<rect x="489" y="99" width="2" height="1" fill="#ffff00"/>
<rect x="490" y="100" width="1" height="1" fill="#ffff00"/>
<rect x="493" y="74" width="8" height="1" fill="#ffff00"/>
<rect x="496" y="74" width="1" height="22" fill="#ffff00"/>
<rect x="493" y="95" width="7" height="1" fill="#ffff00"/>
<rect x="493" y="96" width="6" height="1" fill="#ffff00"/>
<rect x="494" y="97" width="5" height="1" fill="#ffff00"/>
<rect x="495" y="98" width="3" height="1" fill="#ffff00"/>
<rect x="495" y="99" width="2" height="1" fill="#ffff00"/>
<rect x="496" y="100" width="1" height="1" fill="#ffff00"/>
<rect x="500" y="73" width="7" height="1" fill="#ffff00"/>
<rect x="503" y="73" width="1" height="22" fill="#ffff00"/>
<rect x="500" y="94" width="7" height="1" fill="#ffff00"/>
<rect x="500" y="95" width="6" height="1" fill="#ffff00"/>
<rect x="501" y="96" width="5" height="1" fill="#ffff00"/>
<rect x="502" y="97" width="3" height="1" fill="#ffff00"/>
<rect x="502" y="98" width="2" height="1" fill="#ffff00"/>
<rect x="503" y="99" width="1" height="1" fill="#ffff00"/>
<rect x="506" y="75" width="8" height="1" fill="#ffff00"/>
<rect x="509" y="75" width="1" height="22" fill="#ffff00"/>
<rect x="506" y="96" width="7" height="1" fill="#ffff00"/>
<rect x="506" y="97" width="6" height="1" fill="#ffff00"/>
<rect x="507" y="98" width="5" height="1" fill="#ffff00"/>
<rect x="508" y="99" width="3" height="1" fill="#ffff00"/>
<rect x="508" y="100" width="2" height="1" fill="#ffff00"/>
<rect x="509" y="101" width="1" height="1" fill="#ffff00"/>
<rect x="513" y="74" width="7" height="1" fill="#ffff00"/>
<rect x="516" y="74" width="1" height="22" fill="#ffff00"/>
<rect x="513" y="95" width="7" height="1" fill="#ffff00"/>
<rect x="513" y="96" width="6" height="1" fill="#ffff00"/>
<rect x="514" y="97" width="5" height="1" fill="#ffff00"/>
<rect x="515" y="98" width="3" height="1" fill="#ffff00"/>
<rect x="515" y="99" width="2" height="1" fill="#ffff00"/>
<rect x="516" y="100" width="1" height="1" fill="#ffff00"/>
<rect x="519" y="75" width="7" height="1" fill="#ffff00"/>
<rect x="522" y="75" width="1" height="22" fill="#ffff00"/>
<rect x="519" y="96" width="7" height="1" fill="#ffff00"/>
<rect x="519" y="97" width="6" height="1" fill="#ffff00"/>
<rect x="520" y="98" width="5" height="1" fill="#ffff00"/>
<rect x="521" y="99" width="3" height="1" fill="#ffff00"/>
<rect x="521" y="100" width="2" height="1" fill="#ffff00"/>
<rect x="522" y="101" width="1" height="1" fill="#ffff00"/>
<rect x="531" y="79" width="7" height="1" fill="#ffff00"/>
<rect x="534" y="79" width="1" height="22" fill="#ffff00"/>
<rect x="531" y="100" width="7" height="1" fill="#ffff00"/>
<rect x="531" y="101" width="6" height="1" fill="#ffff00"/>
<rect x="532" y="102" width="5" height="1" fill="#ffff00"/>
<rect x="533" y="103" width="3" height="1" fill="#ffff00"/>
<rect x="533" y="104" width="2" height="1" fill="#ffff00"/>
<rect x="534" y="105" width="1" height="1" fill="#ffff00"/>
<rect x="543" y="79" width="7" height="1" fill="#ffff00"/>
<rect x="546" y="79" width="1" height="22" fill="#ffff00"/>
<rect x="543" y="100" width="7" height="1" fill="#ffff00"/>
<rect x="543" y="101" width="6" height="1" fill="#ffff00"/>
<rect x="544" y="102" width="5" height="1" fill="#ffff00"/>
<rect x="545" y="103" width="3" height="1" fill="#ffff00"/>
<rect x="545" y="104" width="2" height="1" fill="#ffff00"/>
<rect x="546" y="105" width="1" height="1" fill="#ffff00"/>
<rect x="549" y="80" width="7" height="1" fill="#ffff00"/>
<rect x="552" y="80" width="1" height="22" fill="#ffff00"/>
<rect x="549" y="101" width="7" height="1" fill="#ffff00"/>
<rect x="549" y="102" width="6" height="1" fill="#ffff00"/>
<rect x="550" y="103" width="5" height="1" fill="#ffff00"/>
<rect x="551" y="104" width="3" height="1" fill="#ffff00"/>
<rect x="551" y="105" width="2" height="1" fill="#ffff00"/>
<rect x="552" y="106" width="1" height="1" fill="#ffff00"/>
<rect x="555" y="81" width="7" height="1" fill="#ffff00"/>
<rect x="558" y="81" width="1" height="22" fill="#ffff00"/>
<rect x="555" y="102" width="7" height="1" fill="#ffff00"/>
<rect x="555" y="103" width="6" height="1" fill="#ffff00"/>
<rect x="556" y="104" width="5" height="1" fill="#ffff00"/>
<rect x="557" y="105" width="3" height="1" fill="#ffff00"/>
<rect x="557" y="106" width="2" height="1" fill="#ffff00"/>
<rect x="558" y="107" width="1" height="1" fill="#ffff00"/>
<rect x="561" y="82" width="7" height="1" fill="#ffff00"/>
<rect x="564" y="82" width="1" height="22" fill="#ffff00"/>
<rect x="561" y="103" width="7" height="1" fill="#ffff00"/>
<rect x="561" y="104" width="6" height="1" fill="#ffff00"/>
<rect x="562" y="105" width="5" height="1" fill="#ffff00"/>
<rect x="563" y="106" width="3" height="1" fill="#ffff00"/>
<rect x="563" y="107" width="2" height="1" fill="#ffff00"/>
<rect x="564" y="108" width="1" height="1" fill="#ffff00"/>
<rect x="567" y="83" width="7" height="1" fill="#ffff00"/>
<rect x="570" y="83" width="1" height="22" fill="#ffff00"/>
<rect x="567" y="104" width="7" height="1" fill="#ffff00"/>
<rect x="567" y="105" width="6" height="1" fill="#ffff00"/>
<rect x="568" y="106" width="5" height="1" fill="#ffff00"/>
<rect x="569" y="107" width="3" height="1" fill="#ffff00"/>
<rect x="569" y="108" width="2" height="1" fill="#ffff00"/>
<rect x="570" y="109" width="1" height="1" fill="#ffff00"/>
<rect x="573" y="84" width="7" height="1" fill="#ffff00"/>
<rect x="576" y="84" width="1" height="22" fill="#ffff00"/>
<rect x="573" y="105" width="7" height="1" fill="#ffff00"/>
<rect x="573" y="106" width="6" height="1" fill="#ffff00"/>
<rect x="574" y="107" width="5" height="1" fill="#ffff00"/>
<rect x="575" y="108" width="3" height="1" fill="#ffff00"/>
<rect x="575" y="109" width="2" height="1" fill="#ffff00"/>
<rect x="576" y="110" width="1" height="1" fill="#ffff00"/>
<rect x="163" y="50" width="17" height="1" fill="#ffff00"/>
<rect x="171" y="45" width="1" height="13" fill="#ffff00"/>
<rect x="170" y="48" width="3" height="1" fill="#ffff00"/>
<rect x="170" y="52" width="3" height="1" fill="#ffff00"/>
<rect x="169" y="49" width="1" height="3" fill="#ffff00"/>
<rect x="173" y="49" width="1" height="3" fill="#ffff00"/>
<rect x="194" y="65" width="16" height="1" fill="#ffff00"/>
<rect x="201" y="53" width="1" height="54" fill="#ffff00"/>
<rect x="200" y="63" width="3" height="1" fill="#ffff00"/>
<rect x="200" y="67" width="3" height="1" fill="#ffff00"/>
<rect x="199" y="64" width="1" height="3" fill="#ffff00"/>
<rect x="203" y="64" width="1" height="3" fill="#ffff00"/>
<rect x="238" y="46" width="14" height="1" fill="#ffff00"/>
<rect x="244" y="40" width="1" height="15" fill="#ffff00"/>
<rect x="243" y="44" width="3" height="1" fill="#ffff00"/>
<rect x="243" y="48" width="3" height="1" fill="#ffff00"/>
<rect x="242" y="45" width="1" height="3" fill="#ffff00"/>
<rect x="246" y="45" width="1" height="3" fill="#ffff00"/>
<rect x="251" y="43" width="14" height="1" fill="#ffff00"/>
<rect x="257" y="40" width="1" height="7" fill="#ffff00"/>
<rect x="256" y="41" width="3" height="1" fill="#ffff00"/>
<rect x="256" y="45" width="3" height="1" fill="#ffff00"/>
<rect x="255" y="42" width="1" height="3" fill="#ffff00"/>
<rect x="259" y="42" width="1" height="3" fill="#ffff00"/>
<rect x="264" y="51" width="11" height="1" fill="#ffff00"/>
<rect x="269" y="44" width="1" height="12" fill="#ffff00"/>
<rect x="268" y="49" width="3" height="1" fill="#ffff00"/>
<rect x="268" y="53" width="3" height="1" fill="#ffff00"/>
<rect x="267" y="50" width="1" height="3" fill="#ffff00"/>
<rect x="271" y="50" width="1" height="3" fill="#ffff00"/>
<rect x="274" y="57" width="12" height="1" fill="#ffff00"/>
<rect x="280" y="55" width="1" height="25" fill="#ffff00"/>
<rect x="279" y="55" width="3" height="1" fill="#ffff00"/>
<rect x="279" y="59" width="3" height="1" fill="#ffff00"/>
<rect x="278" y="56" width="1" height="3" fill="#ffff00"/>
<rect x="282" y="56" width="1" height="3" fill="#ffff00"/>
<rect x="285" y="52" width="13" height="1" fill="#ffff00"/>
<rect x="291" y="46" width="1" height="14" fill="#ffff00"/>
<rect x="290" y="50" width="3" height="1" fill="#ffff00"/>
<rect x="290" y="54" width="3" height="1" fill="#ffff00"/>
<rect x="289" y="51" width="1" height="3" fill="#ffff00"/>
<rect x="293" y="51" width="1" height="3" fill="#ffff00"/>
<rect x="459" y="82" width="8" height="1" fill="#ffff00"/>
<rect x="463" y="70" width="1" height="48" fill="#ffff00"/>
<rect x="462" y="80" width="3" height="1" fill="#ffff00"/>
<rect x="462" y="84" width="3" height="1" fill="#ffff00"/>
<rect x="461" y="81" width="1" height="3" fill="#ffff00"/>
<rect x="465" y="81" width="1" height="3" fill="#ffff00"/>
<rect x="473" y="76" width="7" height="1" fill="#ffff00"/>
<rect x="476" y="68" width="1" height="28" fill="#ffff00"/>
<rect x="475" y="74" width="3" height="1" fill="#ffff00"/>
<rect x="475" y="78" width="3" height="1" fill="#ffff00"/>
<rect x="474" y="75" width="1" height="3" fill="#ffff00"/>
<rect x="478" y="75" width="1" height="3" fill="#ffff00"/>
<rect x="525" y="85" width="7" height="1" fill="#ffff00"/>
<rect x="528" y="75" width="1" height="34" fill="#ffff00"/>
<rect x="527" y="83" width="3" height="1" fill="#ffff00"/>
<rect x="527" y="87" width="3" height="1" fill="#ffff00"/>
<rect x="526" y="84" width="1" height="3" fill="#ffff00"/>
<rect x="530" y="84" width="1" height="3" fill="#ffff00"/>
<rect x="537" y="87" width="7" height="1" fill="#ffff00"/>
<rect x="540" y="76" width="1" height="35" fill="#ffff00"/>
<rect x="539" y="85" width="3" height="1" fill="#ffff00"/>
<rect x="539" y="89" width="3" height="1" fill="#ffff00"/>
<rect x="538" y="86" width="1" height="3" fill="#ffff00"/>
<rect x="542" y="86" width="1" height="3" fill="#ffff00"/>
<rect x="108" y="94" width="21" height="1" fill="#ff0000"/>
<rect x="128" y="84" width="19" height="1" fill="#ff0000"/>
<rect x="128" y="84" width="1" height="11" fill="#ff0000"/>
<rect x="146" y="74" width="18" height="1" fill="#ff0000"/>
<rect x="146" y="74" width="1" height="11" fill="#ff0000"/>
<rect x="163" y="67" width="17" height="1" fill="#ff0000"/>
<rect x="163" y="67" width="1" height="8" fill="#ff0000"/>
<rect x="179" y="62" width="16" height="1" fill="#ff0000"/>
<rect x="179" y="62" width="1" height="6" fill="#ff0000"/>
<rect x="194" y="57" width="16" height="1" fill="#ff0000"/>
<rect x="194" y="57" width="1" height="6" fill="#ff0000"/>
<rect x="209" y="55" width="16" height="1" fill="#ff0000"/>
<rect x="209" y="55" width="1" height="3" fill="#ff0000"/>
<rect x="224" y="53" width="15" height="1" fill="#ff0000"/>
<rect x="224" y="53" width="1" height="3" fill="#ff0000"/>
<rect x="238" y="53" width="14" height="1" fill="#ff0000"/>
<rect x="238" y="53" width="1" height="1" fill="#ff0000"/>
<rect x="251" y="53" width="14" height="1" fill="#ff0000"/>
<rect x="251" y="53" width="1" height="1" fill="#ff0000"/>
<rect x="264" y="54" width="11" height="1" fill="#ff0000"/>
<rect x="264" y="53" width="1" height="2" fill="#ff0000"/>
<rect x="274" y="55" width="12" height="1" fill="#ff0000"/>
<rect x="274" y="54" width="1" height="2" fill="#ff0000"/>
<rect x="285" y="57" width="13" height="1" fill="#ff0000"/>
<rect x="285" y="55" width="1" height="3" fill="#ff0000"/>
<rect x="297" y="61" width="13" height="1" fill="#ff0000"/>
<rect x="297" y="57" width="1" height="5" fill="#ff0000"/>
<rect x="309" y="64" width="12" height="1" fill="#ff0000"/>
<rect x="309" y="61" width="1" height="4" fill="#ff0000"/>
<rect x="320" y="68" width="11" height="1" fill="#ff0000"/>
<rect x="320" y="64" width="1" height="5" fill="#ff0000"/>
<rect x="330" y="72" width="11" height="1" fill="#ff0000"/>
<rect x="330" y="68" width="1" height="5" fill="#ff0000"/>
<rect x="340" y="77" width="12" height="1" fill="#ff0000"/>
<rect x="340" y="72" width="1" height="6" fill="#ff0000"/>
<rect x="351" y="82" width="11" height="1" fill="#ff0000"/>
<rect x="351" y="77" width="1" height="6" fill="#ff0000"/>
<rect x="361" y="88" width="11" height="1" fill="#ff0000"/>
<rect x="361" y="82" width="1" height="7" fill="#ff0000"/>
<rect x="371" y="94" width="11" height="1" fill="#ff0000"/>
<rect x="371" y="88" width="1" height="7" fill="#ff0000"/>
<rect x="381" y="100" width="11" height="1" fill="#ff0000"/>
<rect x="381" y="94" width="1" height="7" fill="#ff0000"/>
<rect x="391" y="108" width="10" height="1" fill="#ff0000"/>
<rect x="391" y="100" width="1" height="9" fill="#ff0000"/>
<rect x="400" y="115" width="10" height="1" fill="#ff0000"/>
<rect x="400" y="108" width="1" height="8" fill="#ff0000"/>
<rect x="409" y="123" width="8" height="1" fill="#ff0000"/>
<rect x="409" y="115" width="1" height="9" fill="#ff0000"/>
<rect x="416" y="129" width="9" height="1" fill="#ff0000"/>
<rect x="416" y="123" width="1" height="7" fill="#ff0000"/>
<rect x="424" y="135" width="8" height="1" fill="#ff0000"/>
<rect x="424" y="129" width="1" height="7" fill="#ff0000"/>
<rect x="431" y="142" width="8" height="1" fill="#ff0000"/>
<rect x="431" y="135" width="1" height="8" fill="#ff0000"/>
<rect x="438" y="149" width="8" height="1" fill="#ff0000"/>
<rect x="438" y="142" width="1" height="8" fill="#ff0000"/>
<rect x="445" y="156" width="8" height="1" fill="#ff0000"/>
<rect x="445" y="149" width="1" height="8" fill="#ff0000"/>
<rect x="452" y="164" width="8" height="1" fill="#ff0000"/>
<rect x="452" y="156" width="1" height="9" fill="#ff0000"/>
<rect x="459" y="171" width="8" height="1" fill="#ff0000"/>
<rect x="459" y="164" width="1" height="8" fill="#ff0000"/>
<rect x="466" y="179" width="8" height="1" fill="#ff0000"/>
<rect x="466" y="171" width="1" height="9" fill="#ff0000"/>
<rect x="473" y="188" width="7" height="1" fill="#ff0000"/>
<rect x="473" y="179" width="1" height="10" fill="#ff0000"/>
<rect x="479" y="196" width="8" height="1" fill="#ff0000"/>
<rect x="479" y="188" width="1" height="9" fill="#ff0000"/>
<rect x="486" y="206" width="8" height="1" fill="#ff0000"/>
<rect x="486" y="196" width="1" height="11" fill="#ff0000"/>
<rect x="493" y="215" width="8" height="1" fill="#ff0000"/>
<rect x="493" y="206" width="1" height="10" fill="#ff0000"/>
<rect x="500" y="224" width="7" height="1" fill="#ff0000"/>
<rect x="500" y="215" width="1" height="10" fill="#ff0000"/>
<rect x="506" y="234" width="8" height="1" fill="#ff0000"/>
<rect x="506" y="224" width="1" height="11" fill="#ff0000"/>
<rect x="513" y="244" width="7" height="1" fill="#ff0000"/>
<rect x="513" y="234" width="1" height="11" fill="#ff0000"/>
<rect x="519" y="255" width="7" height="1" fill="#ff0000"/>
<rect x="519" y="244" width="1" height="12" fill="#ff0000"/>
<rect x="525" y="266" width="7" height="1" fill="#ff0000"/>
<rect x="525" y="255" width="1" height="12" fill="#ff0000"/>
<rect x="531" y="277" width="7" height="1" fill="#ff0000"/>
<rect x="531" y="266" width="1" height="12" fill="#ff0000"/>
<rect x="537" y="289" width="7" height="1" fill="#ff0000"/>
<rect x="537" y="277" width="1" height="13" fill="#ff0000"/>
<rect x="543" y="300" width="7" height="1" fill="#ff0000"/>
<rect x="543" y="289" width="1" height="12" fill="#ff0000"/>
<rect x="549" y="313" width="7" height="1" fill="#ff0000"/>
<rect x="549" y="300" width="1" height="14" fill="#ff0000"/>
<rect x="555" y="325" width="7" height="1" fill="#ff0000"/>
<rect x="555" y="313" width="1" height="13" fill="#ff0000"/>
<rect x="561" y="339" width="7" height="1" fill="#ff0000"/>
<rect x="561" y="325" width="1" height="15" fill="#ff0000"/>
<rect x="567" y="352" width="7" height="1" fill="#ff0000"/>
<rect x="567" y="339" width="1" height="14" fill="#ff0000"/>
<rect x="573" y="366" width="7" height="1" fill="#ff0000"/>
<rect x="573" y="352" width="1" height="15" fill="#ff0000"/>
<text x="524" y="50" font-size="9.8" text-anchor="start" >NAI_06</text>
<rect x="561" y="46" width="7" height="1" fill="#483d8b"/>
<rect x="564" y="43" width="1" height="7" fill="#483d8b"/>
<text x="524" y="62" font-size="9.8" text-anchor="start" >NAI_07</text>
<rect x="563" y="55" width="3" height="1" fill="#0000ff"/>
<rect x="563" y="61" width="3" height="1" fill="#0000ff"/>
<rect x="561" y="57" width="1" height="3" fill="#0000ff"/>
<rect x="567" y="57" width="1" height="3" fill="#0000ff"/>
<rect x="562" y="56" width="1" height="1" fill="#0000ff"/>
<rect x="562" y="60" width="1" height="1" fill="#0000ff"/>
<rect x="566" y="56" width="1" height="1" fill="#0000ff"/>
<rect x="566" y="60" width="1" height="1" fill="#0000ff"/>
<text x="524" y="74" font-size="9.8" text-anchor="start" >NAI_09</text>
<rect x="561" y="67" width="7" height="1" fill="#7fff00"/>
<rect x="561" y="73" width="7" height="1" fill="#7fff00"/>
<rect x="561" y="67" width="1" height="7" fill="#7fff00"/>
<rect x="567" y="67" width="1" height="7" fill="#7fff00"/>
<text x="524" y="86" font-size="9.8" text-anchor="start" >NAI_10</text>
<rect x="564" y="79" width="1" height="1" fill="#ffff00"/>
<rect x="564" y="85" width="1" height="1" fill="#ffff00"/>
<rect x="564" y="79" width="1" height="1" fill="#ffff00"/>
<rect x="564" y="85" width="1" height="1" fill="#ffff00"/>
<rect x="563" y="80" width="1" height="1" fill="#ffff00"/>
<rect x="563" y="84" width="1" height="1" fill="#ffff00"/>
<rect x="565" y="80" width="1" height="1" fill="#ffff00"/>
<rect x="565" y="84" width="1" height="1" fill="#ffff00"/>
<rect x="562" y="81" width="1" height="1" fill="#ffff00"/>
<rect x="562" y="83" width="1" height="1" fill="#ffff00"/>
<rect x="566" y="81" width="1" height="1" fill="#ffff00"/>
<rect x="566" y="83" width="1" height="1" fill="#ffff00"/>
<rect x="561" y="82" width="1" height="1" fill="#ffff00"/>
<rect x="561" y="82" width="1" height="1" fill="#ffff00"/>
<rect x="567" y="82" width="1" height="1" fill="#ffff00"/>
<rect x="567" y="82" width="1" height="1" fill="#ffff00"/>
<rect x="85" y="435" width="24" height="1" fill="#483d8b"/>
<rect x="97" y="427" width="1" height="18" fill="#483d8b"/>
<rect x="108" y="420" width="21" height="1" fill="#483d8b"/>
<rect x="118" y="412" width="1" height="18" fill="#483d8b"/>
<rect x="128" y="415" width="19" height="1" fill="#483d8b"/>
<rect x="137" y="407" width="1" height="18" fill="#483d8b"/>
<rect x="146" y="423" width="18" height="1" fill="#483d8b"/>
<rect x="155" y="415" width="1" height="18" fill="#483d8b"/>
<rect x="163" y="425" width="17" height="1" fill="#483d8b"/>
<rect x="171" y="417" width="1" height="18" fill="#483d8b"/>
<rect x="179" y="411" width="16" height="1" fill="#483d8b"/>
<rect x="186" y="403" width="1" height="18" fill="#483d8b"/>
<rect x="194" y="419" width="16" height="1" fill="#483d8b"/>
<rect x="201" y="411" width="1" height="18" fill="#483d8b"/>
<rect x="209" y="422" width="16" height="1" fill="#483d8b"/>
<rect x="217" y="414" width="1" height="18" fill="#483d8b"/>
<rect x="224" y="392" width="15" height="1" fill="#483d8b"/>
<rect x="231" y="384" width="1" height="18" fill="#483d8b"/>
<rect x="238" y="403" width="14" height="1" fill="#483d8b"/>
<rect x="244" y="395" width="1" height="18" fill="#483d8b"/>
<rect x="251" y="426" width="14" height="1" fill="#483d8b"/>
<rect x="257" y="418" width="1" height="18" fill="#483d8b"/>
<rect x="264" y="421" width="11" height="1" fill="#483d8b"/>
<rect x="269" y="413" width="1" height="18" fill="#483d8b"/>
<rect x="274" y="415" width="12" height="1" fill="#483d8b"/>
<rect x="280" y="407" width="1" height="18" fill="#483d8b"/>
<rect x="285" y="415" width="13" height="1" fill="#483d8b"/>
<rect x="291" y="407" width="1" height="18" fill="#483d8b"/>
<rect x="297" y="422" width="13" height="1" fill="#483d8b"/>
<rect x="303" y="414" width="1" height="18" fill="#483d8b"/>
<rect x="309" y="421" width="12" height="1" fill="#483d8b"/>
<rect x="315" y="413" width="1" height="18" fill="#483d8b"/>
<rect x="320" y="427" width="11" height="1" fill="#483d8b"/>
<rect x="325" y="419" width="1" height="18" fill="#483d8b"/>
<rect x="340" y="429" width="12" height="1" fill="#483d8b"/>
<rect x="346" y="421" width="1" height="18" fill="#483d8b"/>
<rect x="351" y="427" width="11" height="1" fill="#483d8b"/>
<rect x="356" y="419" width="1" height="18" fill="#483d8b"/>
<rect x="361" y="422" width="11" height="1" fill="#483d8b"/>
<rect x="366" y="414" width="1" height="18" fill="#483d8b"/>
<rect x="371" y="390" width="11" height="1" fill="#483d8b"/>
<rect x="376" y="382" width="1" height="18" fill="#483d8b"/>
<rect x="381" y="430" width="11" height="1" fill="#483d8b"/>
<rect x="386" y="422" width="1" height="18" fill="#483d8b"/>
<rect x="391" y="422" width="10" height="1" fill="#483d8b"/>
<rect x="395" y="414" width="1" height="18" fill="#483d8b"/>
<rect x="400" y="424" width="10" height="1" fill="#483d8b"/>
<rect x="404" y="416" width="1" height="18" fill="#483d8b"/>
<rect x="409" y="428" width="8" height="1" fill="#483d8b"/>
<rect x="412" y="420" width="1" height="18" fill="#483d8b"/>
<rect x="416" y="423" width="9" height="1" fill="#483d8b"/>
<rect x="420" y="415" width="1" height="18" fill="#483d8b"/>
<rect x="424" y="430" width="8" height="1" fill="#483d8b"/>
<rect x="427" y="422" width="1" height="18" fill="#483d8b"/>
<rect x="431" y="430" width="8" height="1" fill="#483d8b"/>
<rect x="434" y="422" width="1" height="18" fill="#483d8b"/>
<rect x="438" y="411" width="8" height="1" fill="#483d8b"/>
<rect x="442" y="403" width="1" height="18" fill="#483d8b"/>
<rect x="445" y="406" width="8" height="1" fill="#483d8b"/>
<rect x="449" y="398" width="1" height="18" fill="#483d8b"/>
<rect x="452" y="418" width="8" height="1" fill="#483d8b"/>
<rect x="456" y="410" width="1" height="18" fill="#483d8b"/>
<rect x="459" y="433" width="8" height="1" fill="#483d8b"/>
<rect x="463" y="425" width="1" height="18" fill="#483d8b"/>
<rect x="473" y="420" width="7" height="1" fill="#483d8b"/>
<rect x="476" y="412" width="1" height="18" fill="#483d8b"/>
<rect x="479" y="415" width="8" height="1" fill="#483d8b"/>
<rect x="483" y="407" width="1" height="18" fill="#483d8b"/>
<rect x="486" y="419" width="8" height="1" fill="#483d8b"/>
<rect x="490" y="411" width="1" height="18" fill="#483d8b"/>
<rect x="493" y="409" width="8" height="1" fill="#483d8b"/>
<rect x="496" y="401" width="1" height="18" fill="#483d8b"/>
<rect x="500" y="405" width="7" height="1" fill="#483d8b"/>
<rect x="503" y="397" width="1" height="18" fill="#483d8b"/>
<rect x="506" y="414" width="8" height="1" fill="#483d8b"/>
<rect x="509" y="406" width="1" height="18" fill="#483d8b"/>
<rect x="513" y="425" width="7" height="1" fill="#483d8b"/>
<rect x="516" y="417" width="1" height="18" fill="#483d8b"/>
<rect x="519" y="417" width="7" height="1" fill="#483d8b"/>
<rect x="522" y="409" width="1" height="18" fill="#483d8b"/>
<rect x="525" y="434" width="7" height="1" fill="#483d8b"/>
<rect x="528" y="426" width="1" height="18" fill="#483d8b"/>
<rect x="537" y="406" width="7" height="1" fill="#483d8b"/>
<rect x="540" y="398" width="1" height="18" fill="#483d8b"/>
<rect x="543" y="432" width="7" height="1" fill="#483d8b"/>
<rect x="546" y="424" width="1" height="18" fill="#483d8b"/>
<rect x="549" y="432" width="7" height="1" fill="#483d8b"/>
<rect x="552" y="424" width="1" height="18" fill="#483d8b"/>
<rect x="555" y="416" width="7" height="1" fill="#483d8b"/>
<rect x="558" y="408" width="1" height="18" fill="#483d8b"/>
<rect x="561" y="426" width="7" height="1" fill="#483d8b"/>
<rect x="564" y="418" width="1" height="18" fill="#483d8b"/>
<rect x="108" y="409" width="21" height="1" fill="#0000ff"/>
<rect x="118" y="401" width="1" height="18" fill="#0000ff"/>
<rect x="128" y="424" width="19" height="1" fill="#0000ff"/>
<rect x="137" y="416" width="1" height="18" fill="#0000ff"/>
<rect x="146" y="409" width="18" height="1" fill="#0000ff"/>
<rect x="155" y="401" width="1" height="18" fill="#0000ff"/>
<rect x="163" y="426" width="17" height="1" fill="#0000ff"/>
<rect x="171" y="418" width="1" height="18" fill="#0000ff"/>
<rect x="179" y="426" width="16" height="1" fill="#0000ff"/>
<rect x="186" y="418" width="1" height="18" fill="#0000ff"/>
<rect x="194" y="416" width="16" height="1" fill="#0000ff"/>
<rect x="201" y="408" width="1" height="18" fill="#0000ff"/>
<rect x="209" y="402" width="16" height="1" fill="#0000ff"/>
<rect x="217" y="394" width="1" height="18" fill="#0000ff"/>
<rect x="224" y="414" width="15" height="1" fill="#0000ff"/>
<rect x="231" y="406" width="1" height="18" fill="#0000ff"/>
<rect x="238" y="427" width="14" height="1" fill="#0000ff"/>
<rect x="244" y="419" width="1" height="18" fill="#0000ff"/>
<rect x="251" y="402" width="14" height="1" fill="#0000ff"/>
<rect x="257" y="394" width="1" height="18" fill="#0000ff"/>
<rect x="264" y="415" width="11" height="1" fill="#0000ff"/>
<rect x="269" y="407" width="1" height="18" fill="#0000ff"/>
<rect x="274" y="427" width="12" height="1" fill="#0000ff"/>
<rect x="280" y="419" width="1" height="18" fill="#0000ff"/>
<rect x="285" y="425" width="13" height="1" fill="#0000ff"/>
<rect x="291" y="417" width="1" height="18" fill="#0000ff"/>
<rect x="297" y="424" width="13" height="1" fill="#0000ff"/>
<rect x="303" y="416" width="1" height="18" fill="#0000ff"/>
<rect x="309" y="409" width="12" height="1" fill="#0000ff"/>
<rect x="315" y="401" width="1" height="18" fill="#0000ff"/>
<rect x="320" y="414" width="11" height="1" fill="#0000ff"/>
<rect x="325" y="406" width="1" height="18" fill="#0000ff"/>
<rect x="330" y="413" width="11" height="1" fill="#0000ff"/>
<rect x="335" y="405" width="1" height="18" fill="#0000ff"/>
<rect x="340" y="436" width="12" height="1" fill="#0000ff"/>
<rect x="346" y="428" width="1" height="18" fill="#0000ff"/>
<rect x="351" y="403" width="11" height="1" fill="#0000ff"/>
<rect x="356" y="395" width="1" height="18" fill="#0000ff"/>
<rect x="361" y="426" width="11" height="1" fill="#0000ff"/>
<rect x="366" y="418" width="1" height="18" fill="#0000ff"/>
<rect x="371" y="403" width="11" height="1" fill="#0000ff"/>
<rect x="376" y="395" width="1" height="18" fill="#0000ff"/>
<rect x="381" y="419" width="11" height="1" fill="#0000ff"/>
<rect x="386" y="411" width="1" height="18" fill="#0000ff"/>
<rect x="391" y="415" width="10" height="1" fill="#0000ff"/>
<rect x="395" y="407" width="1" height="18" fill="#0000ff"/>
<rect x="400" y="418" width="10" height="1" fill="#0000ff"/>
<rect x="404" y="410" width="1" height="18" fill="#0000ff"/>
<rect x="409" y="418" width="8" height="1" fill="#0000ff"/>
<rect x="412" y="410" width="1" height="18" fill="#0000ff"/>
<rect x="416" y="411" width="9" height="1" fill="#0000ff"/>
<rect x="420" y="403" width="1" height="18" fill="#0000ff"/>
<rect x="424" y="404" width="8" height="1" fill="#0000ff"/>
<rect x="427" y="396" width="1" height="18" fill="#0000ff"/>
<rect x="431" y="429" width="8" height="1" fill="#0000ff"/>
<rect x="434" y="421" width="1" height="18" fill="#0000ff"/>
<rect x="438" y="422" width="8" height="1" fill="#0000ff"/>
<rect x="442" y="414" width="1" height="18" fill="#0000ff"/>
<rect x="445" y="411" width="8" height="1" fill="#0000ff"/>
<rect x="449" y="403" width="1" height="18" fill="#0000ff"/>
<rect x="452" y="426" width="8" height="1" fill="#0000ff"/>
<rect x="456" y="418" width="1" height="18" fill="#0000ff"/>
<rect x="459" y="424" width="8" height="1" fill="#0000ff"/>
<rect x="463" y="416" width="1" height="18" fill="#0000ff"/>
<rect x="466" y="423" width="8" height="1" fill="#0000ff"/>
<rect x="469" y="415" width="1" height="18" fill="#0000ff"/>
<rect x="473" y="432" width="7" height="1" fill="#0000ff"/>
<rect x="476" y="424" width="1" height="18" fill="#0000ff"/>
<rect x="479" y="400" width="8" height="1" fill="#0000ff"/>
<rect x="483" y="392" width="1" height="18" fill="#0000ff"/>
<rect x="486" y="411" width="8" height="1" fill="#0000ff"/>
<rect x="490" y="403" width="1" height="18" fill="#0000ff"/>
<rect x="493" y="413" width="8" height="1" fill="#0000ff"/>
<rect x="496" y="405" width="1" height="18" fill="#0000ff"/>
<rect x="500" y="435" width="7" height="1" fill="#0000ff"/>
<rect x="503" y="427" width="1" height="18" fill="#0000ff"/>
<rect x="506" y="424" width="8" height="1" fill="#0000ff"/>
<rect x="509" y="416" width="1" height="18" fill="#0000ff"/>
<rect x="513" y="420" width="7" height="1" fill="#0000ff"/>
<rect x="516" y="412" width="1" height="18" fill="#0000ff"/>
<rect x="519" y="433" width="7" height="1" fill="#0000ff"/>
<rect x="522" y="425" width="1" height="18" fill="#0000ff"/>
<rect x="525" y="414" width="7" height="1" fill="#0000ff"/>
<rect x="528" y="406" width="1" height="18" fill="#0000ff"/>
<rect x="531" y="431" width="7" height="1" fill="#0000ff"/>
<rect x="534" y="423" width="1" height="18" fill="#0000ff"/>
<rect x="537" y="416" width="7" height="1" fill="#0000ff"/>
<rect x="540" y="408" width="1" height="18" fill="#0000ff"/>
<rect x="543" y="419" width="7" height="1" fill="#0000ff"/>
<rect x="546" y="411" width="1" height="18" fill="#0000ff"/>
<rect x="549" y="409" width="7" height="1" fill="#0000ff"/>
<rect x="552" y="401" width="1" height="18" fill="#0000ff"/>
<rect x="555" y="425" width="7" height="1" fill="#0000ff"/>
<rect x="558" y="417" width="1" height="18" fill="#0000ff"/>
<rect x="561" y="426" width="7" height="1" fill="#0000ff"/>
<rect x="564" y="418" width="1" height="18" fill="#0000ff"/>
<rect x="567" y="409" width="7" height="1" fill="#0000ff"/>
<rect x="570" y="401" width="1" height="18" fill="#0000ff"/>
<rect x="108" y="417" width="21" height="1" fill="#7fff00"/>
<rect x="118" y="409" width="1" height="18" fill="#7fff00"/>
<rect x="128" y="410" width="19" height="1" fill="#7fff00"/>
<rect x="137" y="402" width="1" height="18" fill="#7fff00"/>
<rect x="146" y="431" width="18" height="1" fill="#7fff00"/>
<rect x="155" y="423" width="1" height="18" fill="#7fff00"/>
<rect x="163" y="419" width="17" height="1" fill="#7fff00"/>
<rect x="171" y="411" width="1" height="18" fill="#7fff00"/>
<rect x="179" y="421" width="16" height="1" fill="#7fff00"/>
<rect x="186" y="413" width="1" height="18" fill="#7fff00"/>
<rect x="194" y="441" width="16" height="1" fill="#7fff00"/>
<rect x="201" y="433" width="1" height="18" fill="#7fff00"/>
<rect x="209" y="445" width="16" height="1" fill="#7fff00"/>
<rect x="217" y="437" width="1" height="18" fill="#7fff00"/>
<rect x="224" y="407" width="15" height="1" fill="#7fff00"/>
<rect x="231" y="399" width="1" height="18" fill="#7fff00"/>
<rect x="238" y="426" width="14" height="1" fill="#7fff00"/>
<rect x="244" y="418" width="1" height="18" fill="#7fff00"/>
<rect x="251" y="414" width="14" height="1" fill="#7fff00"/>
<rect x="257" y="406" width="1" height="18" fill="#7fff00"/>
<rect x="264" y="423" width="11" height="1" fill="#7fff00"/>
<rect x="269" y="415" width="1" height="18" fill="#7fff00"/>
<rect x="274" y="412" width="12" height="1" fill="#7fff00"/>
<rect x="280" y="404" width="1" height="18" fill="#7fff00"/>
<rect x="285" y="421" width="13" height="1" fill="#7fff00"/>
<rect x="291" y="413" width="1" height="18" fill="#7fff00"/>
<rect x="297" y="441" width="13" height="1" fill="#7fff00"/>
<rect x="303" y="433" width="1" height="18" fill="#7fff00"/>
<rect x="309" y="434" width="12" height="1" fill="#7fff00"/>
<rect x="315" y="426" width="1" height="18" fill="#7fff00"/>
<rect x="320" y="416" width="11" height="1" fill="#7fff00"/>
<rect x="325" y="408" width="1" height="18" fill="#7fff00"/>
<rect x="330" y="416" width="11" height="1" fill="#7fff00"/>
<rect x="335" y="408" width="1" height="18" fill="#7fff00"/>
<rect x="340" y="404" width="12" height="1" fill="#7fff00"/>
<rect x="346" y="396" width="1" height="18" fill="#7fff00"/>
<rect x="351" y="435" width="11" height="1" fill="#7fff00"/>
<rect x="356" y="427" width="1" height="18" fill="#7fff00"/>
<rect x="361" y="420" width="11" height="1" fill="#7fff00"/>
<rect x="366" y="412" width="1" height="18" fill="#7fff00"/>
<rect x="371" y="420" width="11" height="1" fill="#7fff00"/>
<rect x="376" y="412" width="1" height="18" fill="#7fff00"/>
<rect x="381" y="422" width="11" height="1" fill="#7fff00"/>
<rect x="386" y="414" width="1" height="18" fill="#7fff00"/>
<rect x="391" y="411" width="10" height="1" fill="#7fff00"/>
<rect x="395" y="403" width="1" height="18" fill="#7fff00"/>
<rect x="400" y="415" width="10" height="1" fill="#7fff00"/>
<rect x="404" y="407" width="1" height="18" fill="#7fff00"/>
<rect x="409" y="433" width="8" height="1" fill="#7fff00"/>
<rect x="412" y="425" width="1" height="18" fill="#7fff00"/>
<rect x="416" y="427" width="9" height="1" fill="#7fff00"/>
<rect x="420" y="419" width="1" height="18" fill="#7fff00"/>
<rect x="424" y="424" width="8" height="1" fill="#7fff00"/>
<rect x="427" y="416" width="1" height="18" fill="#7fff00"/>
<rect x="431" y="434" width="8" height="1" fill="#7fff00"/>
<rect x="434" y="426" width="1" height="18" fill="#7fff00"/>
<rect x="438" y="416" width="8" height="1" fill="#7fff00"/>
<rect x="442" y="408" width="1" height="18" fill="#7fff00"/>
<rect x="445" y="429" width="8" height="1" fill="#7fff00"/>
<rect x="449" y="421" width="1" height="18" fill="#7fff00"/>
<rect x="452" y="437" width="8" height="1" fill="#7fff00"/>
<rect x="456" y="429" width="1" height="18" fill="#7fff00"/>
<rect x="459" y="425" width="8" height="1" fill="#7fff00"/>
<rect x="463" y="417" width="1" height="18" fill="#7fff00"/>
<rect x="466" y="415" width="8" height="1" fill="#7fff00"/>
<rect x="469" y="407" width="1" height="18" fill="#7fff00"/>
<rect x="473" y="419" width="7" height="1" fill="#7fff00"/>
<rect x="476" y="411" width="1" height="18" fill="#7fff00"/>
<rect x="479" y="424" width="8" height="1" fill="#7fff00"/>
<rect x="483" y="416" width="1" height="18" fill="#7fff00"/>
<rect x="486" y="421" width="8" height="1" fill="#7fff00"/>
<rect x="490" y="413" width="1" height="18" fill="#7fff00"/>
<rect x="493" y="436" width="8" height="1" fill="#7fff00"/>
<rect x="496" y="428" width="1" height="18" fill="#7fff00"/>
<rect x="500" y="429" width="7" height="1" fill="#7fff00"/>
<rect x="503" y="421" width="1" height="18" fill="#7fff00"/>
<rect x="506" y="416" width="8" height="1" fill="#7fff00"/>
<rect x="509" y="408" width="1" height="18" fill="#7fff00"/>
<rect x="513" y="423" width="7" height="1" fill="#7fff00"/>
<rect x="516" y="415" width="1" height="18" fill="#7fff00"/>
<rect x="519" y="428" width="7" height="1" fill="#7fff00"/>
<rect x="522" y="420" width="1" height="18" fill="#7fff00"/>
<rect x="525" y="429" width="7" height="1" fill="#7fff00"/>
<rect x="528" y="421" width="1" height="18" fill="#7fff00"/>
<rect x="531" y="397" width="7" height="1" fill="#7fff00"/>
<rect x="534" y="389" width="1" height="18" fill="#7fff00"/>
<rect x="537" y="423" width="7" height="1" fill="#7fff00"/>
<rect x="540" y="415" width="1" height="18" fill="#7fff00"/>
<rect x="543" y="425" width="7" height="1" fill="#7fff00"/>
<rect x="546" y="417" width="1" height="18" fill="#7fff00"/>
<rect x="549" y="415" width="7" height="1" fill="#7fff00"/>
<rect x="552" y="407" width="1" height="18" fill="#7fff00"/>
<rect x="555" y="403" width="7" height="1" fill="#7fff00"/>
<rect x="558" y="395" width="1" height="18" fill="#7fff00"/>
<rect x="561" y="418" width="7" height="1" fill="#7fff00"/>
<rect x="564" y="410" width="1" height="18" fill="#7fff00"/>
<rect x="567" y="425" width="7" height="1" fill="#7fff00"/>
<rect x="570" y="417" width="1" height="18" fill="#7fff00"/>
<rect x="108" y="440" width="21" height="1" fill="#ffff00"/>
<rect x="118" y="432" width="1" height="18" fill="#ffff00"/>
<rect x="128" y="420" width="19" height="1" fill="#ffff00"/>
<rect x="137" y="412" width="1" height="18" fill="#ffff00"/>
<rect x="146" y="421" width="18" height="1" fill="#ffff00"/>
<rect x="155" y="413" width="1" height="18" fill="#ffff00"/>
<rect x="163" y="403" width="17" height="1" fill="#ffff00"/>
<rect x="171" y="395" width="1" height="18" fill="#ffff00"/>
<rect x="179" y="433" width="16" height="1" fill="#ffff00"/>
<rect x="186" y="425" width="1" height="18" fill="#ffff00"/>
<rect x="194" y="425" width="16" height="1" fill="#ffff00"/>
<rect x="201" y="417" width="1" height="18" fill="#ffff00"/>
<rect x="209" y="426" width="16" height="1" fill="#ffff00"/>
<rect x="217" y="418" width="1" height="18" fill="#ffff00"/>
<rect x="224" y="428" width="15" height="1" fill="#ffff00"/>
<rect x="231" y="420" width="1" height="18" fill="#ffff00"/>
<rect x="238" y="412" width="14" height="1" fill="#ffff00"/>
<rect x="244" y="404" width="1" height="18" fill="#ffff00"/>
<rect x="251" y="407" width="14" height="1" fill="#ffff00"/>
<rect x="257" y="399" width="1" height="18" fill="#ffff00"/>
<rect x="264" y="417" width="11" height="1" fill="#ffff00"/>
<rect x="269" y="409" width="1" height="18" fill="#ffff00"/>
<rect x="274" y="421" width="12" height="1" fill="#ffff00"/>
<rect x="280" y="413" width="1" height="18" fill="#ffff00"/>
<rect x="285" y="414" width="13" height="1" fill="#ffff00"/>
<rect x="291" y="406" width="1" height="18" fill="#ffff00"/>
<rect x="297" y="426" width="13" height="1" fill="#ffff00"/>
<rect x="303" y="418" width="1" height="18" fill="#ffff00"/>
<rect x="309" y="424" width="12" height="1" fill="#ffff00"/>
<rect x="315" y="416" width="1" height="18" fill="#ffff00"/>
<rect x="320" y="424" width="11" height="1" fill="#ffff00"/>
<rect x="325" y="416" width="1" height="18" fill="#ffff00"/>
<rect x="330" y="425" width="11" height="1" fill="#ffff00"/>
<rect x="335" y="417" width="1" height="18" fill="#ffff00"/>
<rect x="340" y="420" width="12" height="1" fill="#ffff00"/>
<rect x="346" y="412" width="1" height="18" fill="#ffff00"/>
<rect x="351" y="417" width="11" height="1" fill="#ffff00"/>
<rect x="356" y="409" width="1" height="18" fill="#ffff00"/>
<rect x="361" y="424" width="11" height="1" fill="#ffff00"/>
<rect x="366" y="416" width="1" height="18" fill="#ffff00"/>
<rect x="371" y="419" width="11" height="1" fill="#ffff00"/>
<rect x="376" y="411" width="1" height="18" fill="#ffff00"/>
<rect x="381" y="435" width="11" height="1" fill="#ffff00"/>
<rect x="386" y="427" width="1" height="18" fill="#ffff00"/>
<rect x="391" y="424" width="10" height="1" fill="#ffff00"/>
<rect x="395" y="416" width="1" height="18" fill="#ffff00"/>
<rect x="400" y="414" width="10" height="1" fill="#ffff00"/>
<rect x="404" y="406" width="1" height="18" fill="#ffff00"/>
<rect x="409" y="420" width="8" height="1" fill="#ffff00"/>
<rect x="412" y="412" width="1" height="18" fill="#ffff00"/>
<rect x="416" y="425" width="9" height="1" fill="#ffff00"/>
<rect x="420" y="417" width="1" height="18" fill="#ffff00"/>
<rect x="424" y="433" width="8" height="1" fill="#ffff00"/>
<rect x="427" y="425" width="1" height="18" fill="#ffff00"/>
<rect x="431" y="416" width="8" height="1" fill="#ffff00"/>
<rect x="434" y="408" width="1" height="18" fill="#ffff00"/>
<rect x="438" y="425" width="8" height="1" fill="#ffff00"/>
<rect x="442" y="417" width="1" height="18" fill="#ffff00"/>
<rect x="445" y="425" width="8" height="1" fill="#ffff00"/>
<rect x="449" y="417" width="1" height="18" fill="#ffff00"/>
<rect x="452" y="429" width="8" height="1" fill="#ffff00"/>
<rect x="456" y="421" width="1" height="18" fill="#ffff00"/>
<rect x="459" y="410" width="8" height="1" fill="#ffff00"/>
<rect x="463" y="402" width="1" height="18" fill="#ffff00"/>
<rect x="466" y="447" width="8" height="1" fill="#ffff00"/>
<rect x="469" y="439" width="1" height="18" fill="#ffff00"/>
<rect x="473" y="406" width="7" height="1" fill="#ffff00"/>
<rect x="476" y="398" width="1" height="18" fill="#ffff00"/>
<rect x="479" y="427" width="8" height="1" fill="#ffff00"/>
<rect x="483" y="419" width="1" height="18" fill="#ffff00"/>
<rect x="486" y="426" width="8" height="1" fill="#ffff00"/>
<rect x="490" y="418" width="1" height="18" fill="#ffff00"/>
<rect x="493" y="417" width="8" height="1" fill="#ffff00"/>
<rect x="496" y="409" width="1" height="18" fill="#ffff00"/>
<rect x="500" y="413" width="7" height="1" fill="#ffff00"/>
<rect x="503" y="405" width="1" height="18" fill="#ffff00"/>
<rect x="506" y="426" width="8" height="1" fill="#ffff00"/>
<rect x="509" y="418" width="1" height="18" fill="#ffff00"/>
<rect x="513" y="423" width="7" height="1" fill="#ffff00"/>
<rect x="516" y="415" width="1" height="18" fill="#ffff00"/>
<rect x="519" y="413" width="7" height="1" fill="#ffff00"/>
<rect x="522" y="405" width="1" height="18" fill="#ffff00"/>
<rect x="525" y="408" width="7" height="1" fill="#ffff00"/>
<rect x="528" y="400" width="1" height="18" fill="#ffff00"/>
<rect x="531" y="411" width="7" height="1" fill="#ffff00"/>
<rect x="534" y="403" width="1" height="18" fill="#ffff00"/>
<rect x="537" y="408" width="7" height="1" fill="#ffff00"/>
<rect x="540" y="400" width="1" height="18" fill="#ffff00"/>
<rect x="543" y="415" width="7" height="1" fill="#ffff00"/>
<rect x="546" y="407" width="1" height="18" fill="#ffff00"/>
<rect x="549" y="413" width="7" height="1" fill="#ffff00"/>
<rect x="552" y="405" width="1" height="18" fill="#ffff00"/>
<rect x="555" y="419" width="7" height="1" fill="#ffff00"/>
<rect x="558" y="411" width="1" height="18" fill="#ffff00"/>
<rect x="561" y="429" width="7" height="1" fill="#ffff00"/>
<rect x="564" y="421" width="1" height="18" fill="#ffff00"/>
<rect x="567" y="417" width="7" height="1" fill="#ffff00"/>
<rect x="570" y="409" width="1" height="18" fill="#ffff00"/>
<rect x="573" y="415" width="7" height="1" fill="#ffff00"/>
<rect x="576" y="407" width="1" height="18" fill="#ffff00"/>
<rect x="72" y="25" width="511" height="1" fill="#fff"/>
<rect x="72" y="367" width="511" height="1" fill="#fff"/>
<rect x="72" y="472" width="511" height="1" fill="#fff"/>
<rect x="72" y="25" width="1" height="448" fill="#fff"/>
<rect x="582" y="25" width="1" height="448" fill="#fff"/>
<rect x="102" y="25" width="1" height="5" fill="#fff"/>
<rect x="102" y="364" width="1" height="4" fill="#fff"/>
<rect x="102" y="367" width="1" height="5" fill="#fff"/>
<rect x="102" y="468" width="1" height="5" fill="#fff"/>
<rect x="128" y="25" width="1" height="5" fill="#fff"/>
<rect x="128" y="364" width="1" height="4" fill="#fff"/>
<rect x="128" y="367" width="1" height="5" fill="#fff"/>
<rect x="128" y="468" width="1" height="5" fill="#fff"/>
<rect x="150" y="25" width="1" height="5" fill="#fff"/>
<rect x="150" y="364" width="1" height="4" fill="#fff"/>
<rect x="150" y="367" width="1" height="5" fill="#fff"/>
<rect x="150" y="468" width="1" height="5" fill="#fff"/>
<rect x="170" y="25" width="1" height="5" fill="#fff"/>
<rect x="170" y="364" width="1" height="4" fill="#fff"/>
<rect x="170" y="367" width="1" height="5" fill="#fff"/>
<rect x="170" y="468" width="1" height="5" fill="#fff"/>
<rect x="188" y="25" width="1" height="8" fill="#fff"/>
<rect x="188" y="360" width="1" height="8" fill="#fff"/>
<rect x="188" y="367" width="1" height="10" fill="#fff"/>
<rect x="188" y="464" width="1" height="9" fill="#fff"/>
<rect x="304" y="25" width="1" height="5" fill="#fff"/>
<rect x="304" y="364" width="1" height="4" fill="#fff"/>
<rect x="304" y="367" width="1" height="5" fill="#fff"/>
<rect x="304" y="468" width="1" height="5" fill="#fff"/>
<rect x="372" y="25" width="1" height="5" fill="#fff"/>
<rect x="372" y="364" width="1" height="4" fill="#fff"/>
<rect x="372" y="367" width="1" height="5" fill="#fff"/>
<rect x="372" y="468" width="1" height="5" fill="#fff"/>
<rect x="421" y="25" width="1" height="5" fill="#fff"/>
<rect x="421" y="364" width="1" height="4" fill="#fff"/>
<rect x="421" y="367" width="1" height="5" fill="#fff"/>
<rect x="421" y="468" width="1" height="5" fill="#fff"/>
<rect x="458" y="25" width="1" height="5" fill="#fff"/>
<rect x="458" y="364" width="1" height="4" fill="#fff"/>
<rect x="458" y="367" width="1" height="5" fill="#fff"/>
<rect x="458" y="468" width="1" height="5" fill="#fff"/>
<rect x="489" y="25" width="1" height="5" fill="#fff"/>
<rect x="489" y="364" width="1" height="4" fill="#fff"/>
<rect x="489" y="367" width="1" height="5" fill="#fff"/>
<rect x="489" y="468" width="1" height="5" fill="#fff"/>
<rect x="515" y="25" width="1" height="5" fill="#fff"/>
<rect x="515" y="364" width="1" height="4" fill="#fff"/>
<rect x="515" y="367" width="1" height="5" fill="#fff"/>
<rect x="515" y="468" width="1" height="5" fill="#fff"/>
<rect x="537" y="25" width="1" height="5" fill="#fff"/>
<rect x="537" y="364" width="1" height="4" fill="#fff"/>
<rect x="537" y="367" width="1" height="5" fill="#fff"/>
<rect x="537" y="468" width="1" height="5" fill="#fff"/>
<rect x="557" y="25" width="1" height="5" fill="#fff"/>
<rect x="557" y="364" width="1" height="4" fill="#fff"/>
<rect x="557" y="367" width="1" height="5" fill="#fff"/>
<rect x="557" y="468" width="1" height="5" fill="#fff"/>
<rect x="575" y="25" width="1" height="8" fill="#fff"/>
<rect x="575" y="360" width="1" height="8" fill="#fff"/>
<rect x="575" y="367" width="1" height="10" fill="#fff"/>
<rect x="575" y="464" width="1" height="9" fill="#fff"/>
<rect x="72" y="341" width="6" height="1" fill="#fff"/>
<rect x="577" y="341" width="6" height="1" fill="#fff"/>
<rect x="72" y="303" width="11" height="1" fill="#fff"/>
<rect x="572" y="303" width="11" height="1" fill="#fff"/>
<rect x="72" y="265" width="6" height="1" fill="#fff"/>
<rect x="577" y="265" width="6" height="1" fill="#fff"/>
<rect x="72" y="227" width="11" height="1" fill="#fff"/>
<rect x="572" y="227" width="11" height="1" fill="#fff"/>
<rect x="72" y="189" width="6" height="1" fill="#fff"/>
<rect x="577" y="189" width="6" height="1" fill="#fff"/>
<rect x="72" y="151" width="11" height="1" fill="#fff"/>
<rect x="572" y="151" width="11" height="1" fill="#fff"/>
<rect x="72" y="113" width="6" height="1" fill="#fff"/>
<rect x="577" y="113" width="6" height="1" fill="#fff"/>
<rect x="72" y="75" width="11" height="1" fill="#fff"/>
<rect x="572" y="75" width="11" height="1" fill="#fff"/>
<rect x="72" y="37" width="6" height="1" fill="#fff"/>
<rect x="577" y="37" width="6" height="1" fill="#fff"/>
<rect x="72" y="464" width="6" height="1" fill="#fff"/>
<rect x="577" y="464" width="6" height="1" fill="#fff"/>
<rect x="72" y="455" width="11" height="1" fill="#fff"/>
<rect x="572" y="455" width="11" height="1" fill="#fff"/>
<rect x="72" y="446" width="6" height="1" fill="#fff"/>
<rect x="577" y="446" width="6" height="1" fill="#fff"/>
<rect x="72" y="437" width="11" height="1" fill="#fff"/>
<rect x="572" y="437" width="11" height="1" fill="#fff"/>
<rect x="72" y="429" width="6" height="1" fill="#fff"/>
<rect x="577" y="429" width="6" height="1" fill="#fff"/>
<rect x="72" y="420" width="11" height="1" fill="#fff"/>
<rect x="572" y="420" width="11" height="1" fill="#fff"/>
<rect x="72" y="411" width="6" height="1" fill="#fff"/>
<rect x="577" y="411" width="6" height="1" fill="#fff"/>
<rect x="72" y="402" width="11" height="1" fill="#fff"/>
<rect x="572" y="402" width="11" height="1" fill="#fff"/>
<rect x="72" y="393" width="6" height="1" fill="#fff"/>
<rect x="577" y="393" width="6" height="1" fill="#fff"/>
<rect x="72" y="385" width="11" height="1" fill="#fff"/>
<rect x="572" y="385" width="11" height="1" fill="#fff"/>
<rect x="72" y="376" width="6" height="1" fill="#fff"/>
<rect x="577" y="376" width="6" height="1" fill="#fff"/>
<text x="54" y="80.0" font-size="11">10<tspan dy="-4" font-size="7">0</tspan></text>
<text x="48" y="156.0" font-size="11">10<tspan dy="-4" font-size="7">−2</tspan></text>
<text x="48" y="232.0" font-size="11">10<tspan dy="-4" font-size="7">−4</tspan></text>
<text x="48" y="308.0" font-size="11">10<tspan dy="-4" font-size="7">−6</tspan></text>
<text x="69" y="375" font-size="11" text-anchor="end" >6</text>
<text x="69" y="389.18" font-size="11" text-anchor="end" >4</text>
<text x="69" y="406.74" font-size="11" text-anchor="end" >2</text>
<text x="69" y="424.3" font-size="11" text-anchor="end" >0</text>
<text x="69" y="441.86" font-size="11" text-anchor="end" >−2</text>
<text x="69" y="459.42" font-size="11" text-anchor="end" >−4</text>
<text x="69" y="473" font-size="11" text-anchor="end" >−6</text>
<text x="188" y="488" font-size="11" text-anchor="middle" >10</text>
<text x="575" y="488" font-size="11" text-anchor="middle" >100</text>
<text x="327" y="501" font-size="11" text-anchor="middle" >Energy (keV)</text>
<text transform="translate(40,196) rotate(-90)" font-size="11.5" text-anchor="middle">Rate (counts s<tspan dy="-4" font-size="7">−1</tspan><tspan dy="4" font-size="11"> keV</tspan><tspan dy="-4" font-size="7">−1</tspan><tspan dy="4" font-size="11">)</tspan></text>
<text transform="translate(47,420) rotate(-90)" font-size="11" text-anchor="middle">Sigma</text>
<text x="570" y="21" font-size="9" text-anchor="end" >Times: −5.285: 2.907 s</text>
<rect x="72" y="420" width="1" height="1" fill="#ff0000"/>
<rect x="78" y="420" width="1" height="1" fill="#ff0000"/>
<rect x="84" y="420" width="1" height="1" fill="#ff0000"/>
<rect x="90" y="420" width="1" height="1" fill="#ff0000"/>
<rect x="96" y="420" width="1" height="1" fill="#ff0000"/>
<rect x="102" y="420" width="1" height="1" fill="#ff0000"/>
<rect x="108" y="420" width="1" height="1" fill="#ff0000"/>
<rect x="114" y="420" width="1" height="1" fill="#ff0000"/>
<rect x="120" y="420" width="1" height="1" fill="#ff0000"/>
<rect x="126" y="420" width="1" height="1" fill="#ff0000"/>
<rect x="132" y="420" width="1" height="1" fill="#ff0000"/>
<rect x="138" y="420" width="1" height="1" fill="#ff0000"/>
<rect x="144" y="420" width="1" height="1" fill="#ff0000"/>
<rect x="150" y="420" width="1" height="1" fill="#ff0000"/>
<rect x="156" y="420" width="1" height="1" fill="#ff0000"/>
<rect x="162" y="420" width="1" height="1" fill="#ff0000"/>
<rect x="168" y="420" width="1" height="1" fill="#ff0000"/>
<rect x="174" y="420" width="1" height="1" fill="#ff0000"/>
<rect x="180" y="420" width="1" height="1" fill="#ff0000"/>
<rect x="186" y="420" width="1" height="1" fill="#ff0000"/>
<rect x="192" y="420" width="1" height="1" fill="#ff0000"/>
<rect x="198" y="420" width="1" height="1" fill="#ff0000"/>
<rect x="204" y="420" width="1" height="1" fill="#ff0000"/>
<rect x="210" y="420" width="1" height="1" fill="#ff0000"/>
<rect x="216" y="420" width="1" height="1" fill="#ff0000"/>
<rect x="222" y="420" width="1" height="1" fill="#ff0000"/>
<rect x="228" y="420" width="1" height="1" fill="#ff0000"/>
<rect x="234" y="420" width="1" height="1" fill="#ff0000"/>
<rect x="240" y="420" width="1" height="1" fill="#ff0000"/>
<rect x="246" y="420" width="1" height="1" fill="#ff0000"/>
<rect x="252" y="420" width="1" height="1" fill="#ff0000"/>
<rect x="258" y="420" width="1" height="1" fill="#ff0000"/>
<rect x="264" y="420" width="1" height="1" fill="#ff0000"/>
<rect x="270" y="420" width="1" height="1" fill="#ff0000"/>
<rect x="276" y="420" width="1" height="1" fill="#ff0000"/>
<rect x="282" y="420" width="1" height="1" fill="#ff0000"/>
<rect x="288" y="420" width="1" height="1" fill="#ff0000"/>
<rect x="294" y="420" width="1" height="1" fill="#ff0000"/>
<rect x="300" y="420" width="1" height="1" fill="#ff0000"/>
<rect x="306" y="420" width="1" height="1" fill="#ff0000"/>
<rect x="312" y="420" width="1" height="1" fill="#ff0000"/>
<rect x="318" y="420" width="1" height="1" fill="#ff0000"/>
<rect x="324" y="420" width="1" height="1" fill="#ff0000"/>
<rect x="330" y="420" width="1" height="1" fill="#ff0000"/>
<rect x="336" y="420" width="1" height="1" fill="#ff0000"/>
<rect x="342" y="420" width="1" height="1" fill="#ff0000"/>
<rect x="348" y="420" width="1" height="1" fill="#ff0000"/>
<rect x="354" y="420" width="1" height="1" fill="#ff0000"/>
<rect x="360" y="420" width="1" height="1" fill="#ff0000"/>
<rect x="366" y="420" width="1" height="1" fill="#ff0000"/>
<rect x="372" y="420" width="1" height="1" fill="#ff0000"/>
<rect x="378" y="420" width="1" height="1" fill="#ff0000"/>
<rect x="384" y="420" width="1" height="1" fill="#ff0000"/>
<rect x="390" y="420" width="1" height="1" fill="#ff0000"/>
<rect x="396" y="420" width="1" height="1" fill="#ff0000"/>
<rect x="402" y="420" width="1" height="1" fill="#ff0000"/>
<rect x="408" y="420" width="1" height="1" fill="#ff0000"/>
<rect x="414" y="420" width="1" height="1" fill="#ff0000"/>
<rect x="420" y="420" width="1" height="1" fill="#ff0000"/>
<rect x="426" y="420" width="1" height="1" fill="#ff0000"/>
<rect x="432" y="420" width="1" height="1" fill="#ff0000"/>
<rect x="438" y="420" width="1" height="1" fill="#ff0000"/>
<rect x="444" y="420" width="1" height="1" fill="#ff0000"/>
<rect x="450" y="420" width="1" height="1" fill="#ff0000"/>
<rect x="456" y="420" width="1" height="1" fill="#ff0000"/>
<rect x="462" y="420" width="1" height="1" fill="#ff0000"/>
<rect x="468" y="420" width="1" height="1" fill="#ff0000"/>
<rect x="474" y="420" width="1" height="1" fill="#ff0000"/>
<rect x="480" y="420" width="1" height="1" fill="#ff0000"/>
<rect x="486" y="420" width="1" height="1" fill="#ff0000"/>
<rect x="492" y="420" width="1" height="1" fill="#ff0000"/>
<rect x="498" y="420" width="1" height="1" fill="#ff0000"/>
<rect x="504" y="420" width="1" height="1" fill="#ff0000"/>
<rect x="510" y="420" width="1" height="1" fill="#ff0000"/>
<rect x="516" y="420" width="1" height="1" fill="#ff0000"/>
<rect x="522" y="420" width="1" height="1" fill="#ff0000"/>
<rect x="528" y="420" width="1" height="1" fill="#ff0000"/>
<rect x="534" y="420" width="1" height="1" fill="#ff0000"/>
<rect x="540" y="420" width="1" height="1" fill="#ff0000"/>
<rect x="546" y="420" width="1" height="1" fill="#ff0000"/>
<rect x="552" y="420" width="1" height="1" fill="#ff0000"/>
<rect x="558" y="420" width="1" height="1" fill="#ff0000"/>
<rect x="564" y="420" width="1" height="1" fill="#ff0000"/>
<rect x="570" y="420" width="1" height="1" fill="#ff0000"/>
<rect x="576" y="420" width="1" height="1" fill="#ff0000"/>
<rect x="582" y="420" width="1" height="1" fill="#ff0000"/>
</svg>
</body></html>
